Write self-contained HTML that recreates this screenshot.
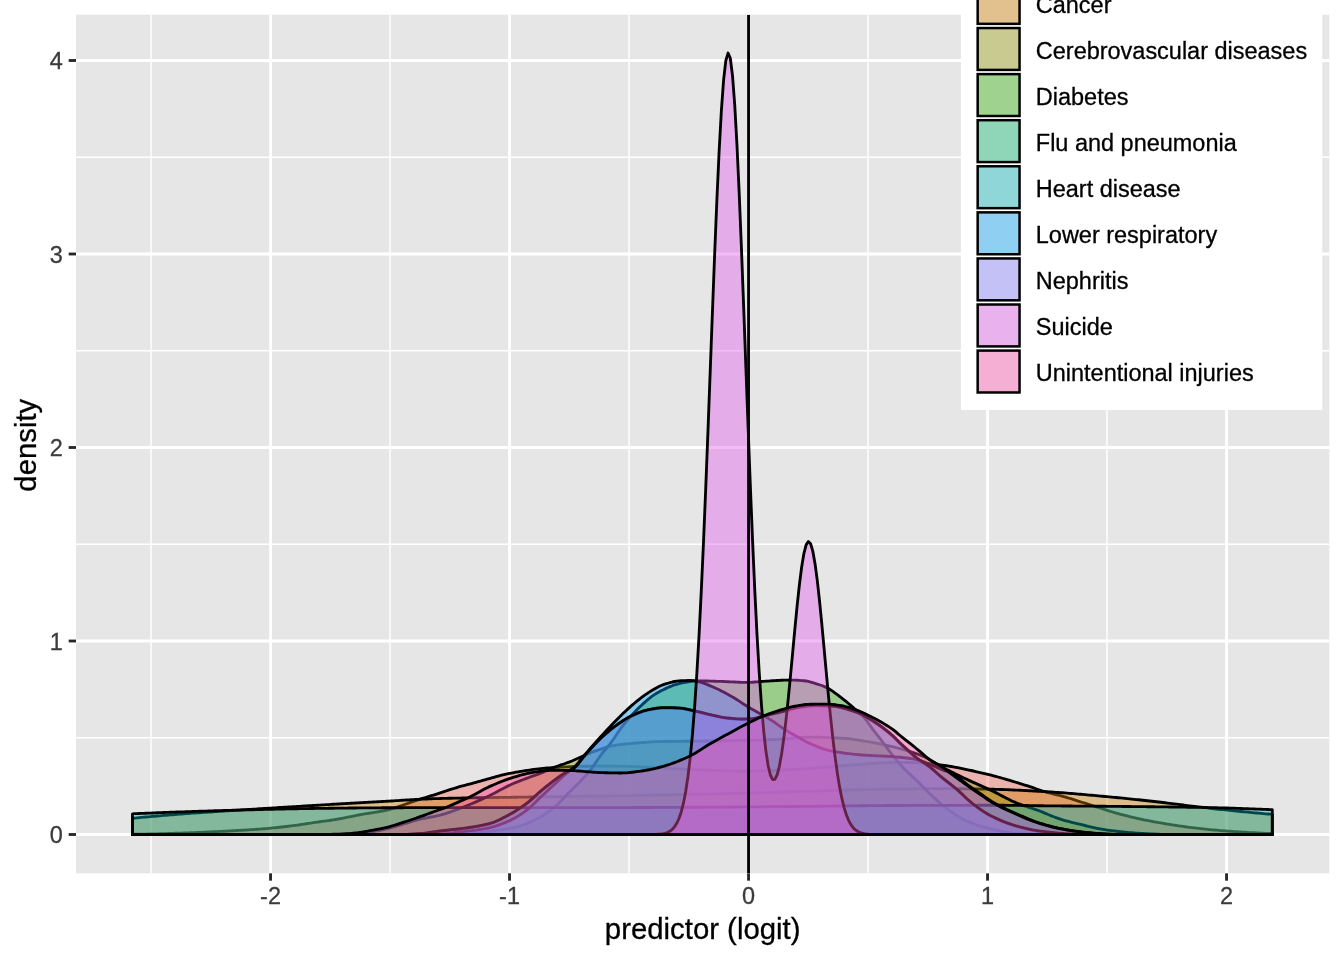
<!DOCTYPE html>
<html><head><meta charset="utf-8"><title>density</title>
<style>html,body{margin:0;padding:0;background:#fff;}body{width:1344px;height:960px;overflow:hidden;}svg{display:block;will-change:transform;}text{font-family:"Liberation Sans",sans-serif;}</style>
</head><body>
<svg width="1344" height="960" viewBox="0 0 1344 960">
<defs><clipPath id="pc"><rect x="76.00" y="14.67" width="1253.33" height="858.66"/></clipPath></defs>
<rect x="0" y="0" width="1344" height="960" fill="#FFFFFF"/>
<rect x="76.00" y="14.67" width="1253.33" height="858.66" fill="#E6E6E6"/>
<g clip-path="url(#pc)" stroke="#FFFFFF" fill="none">
<line x1="151.05" x2="151.05" y1="14.67" y2="873.33" stroke-width="1.42"/>
<line x1="390.05" x2="390.05" y1="14.67" y2="873.33" stroke-width="1.42"/>
<line x1="629.05" x2="629.05" y1="14.67" y2="873.33" stroke-width="1.42"/>
<line x1="868.05" x2="868.05" y1="14.67" y2="873.33" stroke-width="1.42"/>
<line x1="1107.05" x2="1107.05" y1="14.67" y2="873.33" stroke-width="1.42"/>
<line x1="76.00" x2="1329.33" y1="737.75" y2="737.75" stroke-width="1.42"/>
<line x1="76.00" x2="1329.33" y1="544.25" y2="544.25" stroke-width="1.42"/>
<line x1="76.00" x2="1329.33" y1="350.75" y2="350.75" stroke-width="1.42"/>
<line x1="76.00" x2="1329.33" y1="157.25" y2="157.25" stroke-width="1.42"/>
<line x1="270.55" x2="270.55" y1="14.67" y2="873.33" stroke-width="2.84"/>
<line x1="509.55" x2="509.55" y1="14.67" y2="873.33" stroke-width="2.84"/>
<line x1="748.55" x2="748.55" y1="14.67" y2="873.33" stroke-width="2.84"/>
<line x1="987.55" x2="987.55" y1="14.67" y2="873.33" stroke-width="2.84"/>
<line x1="1226.55" x2="1226.55" y1="14.67" y2="873.33" stroke-width="2.84"/>
<line x1="76.00" x2="1329.33" y1="834.50" y2="834.50" stroke-width="2.84"/>
<line x1="76.00" x2="1329.33" y1="641.00" y2="641.00" stroke-width="2.84"/>
<line x1="76.00" x2="1329.33" y1="447.50" y2="447.50" stroke-width="2.84"/>
<line x1="76.00" x2="1329.33" y1="254.00" y2="254.00" stroke-width="2.84"/>
<line x1="76.00" x2="1329.33" y1="60.50" y2="60.50" stroke-width="2.84"/>
</g>
<g clip-path="url(#pc)" stroke="#000000" stroke-width="2.84" stroke-linejoin="round" stroke-linecap="butt">
<path d="M132.50 834.50 L132.50 834.31 L134.73 834.27 L136.96 834.23 L139.19 834.19 L141.42 834.15 L143.65 834.10 L145.88 834.06 L148.11 834.01 L150.34 833.96 L152.57 833.91 L154.81 833.86 L157.04 833.80 L159.27 833.74 L161.50 833.69 L163.73 833.63 L165.96 833.56 L168.19 833.50 L170.42 833.43 L172.65 833.36 L174.88 833.29 L177.11 833.22 L179.34 833.15 L181.57 833.07 L183.80 832.99 L186.03 832.91 L188.26 832.83 L190.49 832.75 L192.72 832.66 L194.95 832.57 L197.19 832.48 L199.42 832.40 L201.65 832.30 L203.88 832.21 L206.11 832.11 L208.34 832.00 L210.57 831.90 L212.80 831.79 L215.03 831.68 L217.26 831.56 L219.49 831.45 L221.72 831.33 L223.95 831.21 L226.18 831.09 L228.41 830.97 L230.64 830.84 L232.87 830.72 L235.10 830.60 L237.33 830.48 L239.57 830.35 L241.80 830.23 L244.03 830.10 L246.26 829.97 L248.49 829.84 L250.72 829.70 L252.95 829.56 L255.18 829.42 L257.41 829.26 L259.64 829.10 L261.87 828.94 L264.10 828.76 L266.33 828.57 L268.56 828.38 L270.79 828.17 L273.02 827.95 L275.25 827.73 L277.48 827.50 L279.71 827.25 L281.95 827.01 L284.18 826.75 L286.41 826.49 L288.64 826.23 L290.87 825.96 L293.10 825.68 L295.33 825.40 L297.56 825.09 L299.79 824.77 L302.02 824.44 L304.25 824.09 L306.48 823.75 L308.71 823.40 L310.94 823.05 L313.17 822.71 L315.40 822.39 L317.63 822.07 L319.86 821.77 L322.09 821.46 L324.33 821.16 L326.56 820.86 L328.79 820.54 L331.02 820.22 L333.25 819.88 L335.48 819.52 L337.71 819.14 L339.94 818.74 L342.17 818.31 L344.40 817.88 L346.63 817.43 L348.86 816.98 L351.09 816.52 L353.32 816.07 L355.55 815.62 L357.78 815.18 L360.01 814.75 L362.24 814.34 L364.47 813.96 L366.71 813.59 L368.94 813.23 L371.17 812.88 L373.40 812.53 L375.63 812.17 L377.86 811.80 L380.09 811.41 L382.32 811.00 L384.55 810.55 L386.78 810.07 L389.01 809.54 L391.24 808.95 L393.47 808.30 L395.70 807.61 L397.93 806.88 L400.16 806.11 L402.39 805.33 L404.62 804.53 L406.85 803.72 L409.09 802.91 L411.32 802.11 L413.55 801.32 L415.78 800.56 L418.01 799.83 L420.24 799.12 L422.47 798.44 L424.70 797.75 L426.93 797.08 L429.16 796.40 L431.39 795.72 L433.62 795.03 L435.85 794.32 L438.08 793.60 L440.31 792.87 L442.54 792.13 L444.77 791.39 L447.00 790.65 L449.24 789.91 L451.47 789.19 L453.70 788.48 L455.93 787.79 L458.16 787.12 L460.39 786.48 L462.62 785.88 L464.85 785.30 L467.08 784.74 L469.31 784.18 L471.54 783.59 L473.77 782.99 L476.00 782.37 L478.23 781.74 L480.46 781.10 L482.69 780.46 L484.92 779.81 L487.15 779.17 L489.38 778.52 L491.62 777.89 L493.85 777.27 L496.08 776.66 L498.31 776.06 L500.54 775.49 L502.77 774.94 L505.00 774.41 L507.23 773.92 L509.46 773.45 L511.69 773.02 L513.92 772.62 L516.15 772.22 L518.38 771.83 L520.61 771.45 L522.84 771.08 L525.07 770.71 L527.30 770.36 L529.53 770.03 L531.76 769.70 L534.00 769.40 L536.23 769.11 L538.46 768.84 L540.69 768.59 L542.92 768.36 L545.15 768.16 L547.38 767.98 L549.61 767.82 L551.84 767.67 L554.07 767.53 L556.30 767.39 L558.53 767.25 L560.76 767.13 L562.99 767.01 L565.22 766.90 L567.45 766.80 L569.68 766.70 L571.91 766.62 L574.14 766.54 L576.38 766.47 L578.61 766.42 L580.84 766.37 L583.07 766.33 L585.30 766.28 L587.53 766.24 L589.76 766.20 L591.99 766.16 L594.22 766.13 L596.45 766.10 L598.68 766.07 L600.91 766.05 L603.14 766.03 L605.37 766.01 L607.60 766.00 L609.83 766.00 L612.06 766.01 L614.29 766.03 L616.52 766.06 L618.76 766.11 L620.99 766.16 L623.22 766.23 L625.45 766.30 L627.68 766.38 L629.91 766.47 L632.14 766.56 L634.37 766.66 L636.60 766.76 L638.83 766.86 L641.06 766.96 L643.29 767.06 L645.52 767.16 L647.75 767.26 L649.98 767.35 L652.21 767.45 L654.44 767.56 L656.67 767.67 L658.90 767.79 L661.14 767.91 L663.37 768.04 L665.60 768.18 L667.83 768.31 L670.06 768.44 L672.29 768.58 L674.52 768.71 L676.75 768.84 L678.98 768.96 L681.21 769.08 L683.44 769.20 L685.67 769.30 L687.90 769.40 L690.13 769.49 L692.36 769.57 L694.59 769.66 L696.82 769.75 L699.05 769.83 L701.28 769.92 L703.52 770.01 L705.75 770.09 L707.98 770.18 L710.21 770.26 L712.44 770.34 L714.67 770.42 L716.90 770.50 L719.13 770.57 L721.36 770.64 L723.59 770.70 L725.82 770.76 L728.05 770.82 L730.28 770.87 L732.51 770.91 L734.74 770.95 L736.97 770.98 L739.20 771.00 L741.43 771.02 L743.66 771.03 L745.90 771.03 L748.13 771.02 L750.36 771.00 L752.59 770.98 L754.82 770.94 L757.05 770.89 L759.28 770.84 L761.51 770.78 L763.74 770.72 L765.97 770.64 L768.20 770.56 L770.43 770.48 L772.66 770.39 L774.89 770.30 L777.12 770.20 L779.35 770.10 L781.58 770.00 L783.81 769.89 L786.04 769.79 L788.28 769.68 L790.51 769.57 L792.74 769.46 L794.97 769.34 L797.20 769.23 L799.43 769.12 L801.66 769.01 L803.89 768.89 L806.12 768.75 L808.35 768.60 L810.58 768.45 L812.81 768.28 L815.04 768.11 L817.27 767.93 L819.50 767.74 L821.73 767.56 L823.96 767.36 L826.19 767.17 L828.42 766.97 L830.66 766.78 L832.89 766.58 L835.12 766.39 L837.35 766.20 L839.58 766.01 L841.81 765.83 L844.04 765.66 L846.27 765.49 L848.50 765.33 L850.73 765.18 L852.96 765.02 L855.19 764.86 L857.42 764.70 L859.65 764.53 L861.88 764.35 L864.11 764.18 L866.34 764.01 L868.57 763.84 L870.80 763.67 L873.04 763.50 L875.27 763.34 L877.50 763.19 L879.73 763.04 L881.96 762.91 L884.19 762.78 L886.42 762.67 L888.65 762.57 L890.88 762.49 L893.11 762.42 L895.34 762.37 L897.57 762.34 L899.80 762.32 L902.03 762.33 L904.26 762.36 L906.49 762.40 L908.72 762.46 L910.95 762.54 L913.18 762.62 L915.42 762.71 L917.65 762.80 L919.88 762.90 L922.11 763.02 L924.34 763.17 L926.57 763.35 L928.80 763.55 L931.03 763.78 L933.26 764.03 L935.49 764.29 L937.72 764.56 L939.95 764.83 L942.18 765.12 L944.41 765.43 L946.64 765.77 L948.87 766.12 L951.10 766.49 L953.33 766.88 L955.56 767.29 L957.80 767.71 L960.03 768.15 L962.26 768.60 L964.49 769.06 L966.72 769.53 L968.95 770.02 L971.18 770.51 L973.41 771.01 L975.64 771.52 L977.87 772.03 L980.10 772.55 L982.33 773.07 L984.56 773.60 L986.79 774.12 L989.02 774.66 L991.25 775.22 L993.48 775.80 L995.71 776.39 L997.95 777.00 L1000.18 777.62 L1002.41 778.25 L1004.64 778.90 L1006.87 779.55 L1009.10 780.22 L1011.33 780.89 L1013.56 781.57 L1015.79 782.25 L1018.02 782.94 L1020.25 783.63 L1022.48 784.33 L1024.71 785.02 L1026.94 785.72 L1029.17 786.44 L1031.40 787.19 L1033.63 787.96 L1035.86 788.74 L1038.09 789.51 L1040.33 790.27 L1042.56 790.99 L1044.79 791.67 L1047.02 792.30 L1049.25 792.90 L1051.48 793.46 L1053.71 794.01 L1055.94 794.55 L1058.17 795.11 L1060.40 795.68 L1062.63 796.28 L1064.86 796.91 L1067.09 797.57 L1069.32 798.25 L1071.55 798.94 L1073.78 799.65 L1076.01 800.36 L1078.24 801.08 L1080.47 801.79 L1082.71 802.50 L1084.94 803.21 L1087.17 803.90 L1089.40 804.61 L1091.63 805.33 L1093.86 806.05 L1096.09 806.78 L1098.32 807.50 L1100.55 808.23 L1102.78 808.96 L1105.01 809.67 L1107.24 810.38 L1109.47 811.08 L1111.70 811.76 L1113.93 812.42 L1116.16 813.07 L1118.39 813.69 L1120.62 814.28 L1122.85 814.85 L1125.09 815.41 L1127.32 815.97 L1129.55 816.51 L1131.78 817.04 L1134.01 817.57 L1136.24 818.08 L1138.47 818.58 L1140.70 819.07 L1142.93 819.55 L1145.16 820.02 L1147.39 820.48 L1149.62 820.92 L1151.85 821.36 L1154.08 821.78 L1156.31 822.19 L1158.54 822.58 L1160.77 822.97 L1163.00 823.36 L1165.23 823.74 L1167.47 824.10 L1169.70 824.47 L1171.93 824.82 L1174.16 825.16 L1176.39 825.50 L1178.62 825.83 L1180.85 826.15 L1183.08 826.46 L1185.31 826.76 L1187.54 827.05 L1189.77 827.34 L1192.00 827.61 L1194.23 827.87 L1196.46 828.13 L1198.69 828.38 L1200.92 828.63 L1203.15 828.88 L1205.38 829.11 L1207.61 829.35 L1209.85 829.57 L1212.08 829.79 L1214.31 830.00 L1216.54 830.21 L1218.77 830.41 L1221.00 830.60 L1223.23 830.78 L1225.46 830.95 L1227.69 831.12 L1229.92 831.27 L1232.15 831.43 L1234.38 831.58 L1236.61 831.73 L1238.84 831.87 L1241.07 832.02 L1243.30 832.15 L1245.53 832.29 L1247.76 832.42 L1249.99 832.55 L1252.23 832.67 L1254.46 832.79 L1256.69 832.90 L1258.92 833.01 L1261.15 833.11 L1263.38 833.21 L1265.61 833.30 L1267.84 833.38 L1270.07 833.46 L1272.30 833.53 L1272.30 834.50 Z" fill="#F6635A" fill-opacity="0.4"/>
<path d="M132.50 834.50 L132.50 818.25 L134.73 818.04 L136.96 817.83 L139.19 817.62 L141.42 817.42 L143.65 817.21 L145.88 817.01 L148.11 816.81 L150.34 816.61 L152.57 816.41 L154.81 816.22 L157.04 816.02 L159.27 815.83 L161.50 815.64 L163.73 815.45 L165.96 815.27 L168.19 815.08 L170.42 814.90 L172.65 814.72 L174.88 814.54 L177.11 814.37 L179.34 814.19 L181.57 814.02 L183.80 813.85 L186.03 813.69 L188.26 813.52 L190.49 813.36 L192.72 813.20 L194.95 813.04 L197.19 812.88 L199.42 812.73 L201.65 812.57 L203.88 812.42 L206.11 812.27 L208.34 812.12 L210.57 811.97 L212.80 811.82 L215.03 811.67 L217.26 811.53 L219.49 811.38 L221.72 811.23 L223.95 811.09 L226.18 810.95 L228.41 810.80 L230.64 810.66 L232.87 810.51 L235.10 810.37 L237.33 810.23 L239.57 810.08 L241.80 809.94 L244.03 809.80 L246.26 809.65 L248.49 809.51 L250.72 809.36 L252.95 809.22 L255.18 809.08 L257.41 808.93 L259.64 808.79 L261.87 808.65 L264.10 808.51 L266.33 808.37 L268.56 808.23 L270.79 808.09 L273.02 807.95 L275.25 807.81 L277.48 807.67 L279.71 807.53 L281.95 807.39 L284.18 807.25 L286.41 807.12 L288.64 806.98 L290.87 806.84 L293.10 806.71 L295.33 806.57 L297.56 806.43 L299.79 806.30 L302.02 806.16 L304.25 806.03 L306.48 805.89 L308.71 805.76 L310.94 805.62 L313.17 805.49 L315.40 805.36 L317.63 805.22 L319.86 805.09 L322.09 804.95 L324.33 804.82 L326.56 804.69 L328.79 804.55 L331.02 804.42 L333.25 804.29 L335.48 804.15 L337.71 804.02 L339.94 803.89 L342.17 803.76 L344.40 803.63 L346.63 803.50 L348.86 803.37 L351.09 803.24 L353.32 803.11 L355.55 802.98 L357.78 802.85 L360.01 802.72 L362.24 802.60 L364.47 802.47 L366.71 802.34 L368.94 802.22 L371.17 802.09 L373.40 801.97 L375.63 801.85 L377.86 801.72 L380.09 801.60 L382.32 801.48 L384.55 801.35 L386.78 801.22 L389.01 801.09 L391.24 800.96 L393.47 800.82 L395.70 800.69 L397.93 800.56 L400.16 800.42 L402.39 800.29 L404.62 800.15 L406.85 800.02 L409.09 799.89 L411.32 799.77 L413.55 799.64 L415.78 799.52 L418.01 799.40 L420.24 799.29 L422.47 799.18 L424.70 799.07 L426.93 798.97 L429.16 798.88 L431.39 798.79 L433.62 798.70 L435.85 798.63 L438.08 798.56 L440.31 798.50 L442.54 798.44 L444.77 798.39 L447.00 798.34 L449.24 798.29 L451.47 798.24 L453.70 798.19 L455.93 798.14 L458.16 798.10 L460.39 798.05 L462.62 798.01 L464.85 797.97 L467.08 797.93 L469.31 797.89 L471.54 797.85 L473.77 797.81 L476.00 797.78 L478.23 797.74 L480.46 797.71 L482.69 797.68 L484.92 797.64 L487.15 797.61 L489.38 797.58 L491.62 797.55 L493.85 797.52 L496.08 797.49 L498.31 797.46 L500.54 797.43 L502.77 797.40 L505.00 797.37 L507.23 797.34 L509.46 797.31 L511.69 797.28 L513.92 797.25 L516.15 797.22 L518.38 797.19 L520.61 797.16 L522.84 797.13 L525.07 797.10 L527.30 797.07 L529.53 797.04 L531.76 797.01 L534.00 796.98 L536.23 796.94 L538.46 796.91 L540.69 796.88 L542.92 796.85 L545.15 796.82 L547.38 796.78 L549.61 796.75 L551.84 796.72 L554.07 796.69 L556.30 796.67 L558.53 796.64 L560.76 796.61 L562.99 796.58 L565.22 796.55 L567.45 796.52 L569.68 796.49 L571.91 796.46 L574.14 796.44 L576.38 796.41 L578.61 796.38 L580.84 796.35 L583.07 796.32 L585.30 796.29 L587.53 796.26 L589.76 796.23 L591.99 796.21 L594.22 796.18 L596.45 796.15 L598.68 796.11 L600.91 796.08 L603.14 796.05 L605.37 796.02 L607.60 795.99 L609.83 795.96 L612.06 795.92 L614.29 795.89 L616.52 795.85 L618.76 795.82 L620.99 795.78 L623.22 795.75 L625.45 795.71 L627.68 795.67 L629.91 795.64 L632.14 795.60 L634.37 795.56 L636.60 795.52 L638.83 795.48 L641.06 795.44 L643.29 795.40 L645.52 795.36 L647.75 795.32 L649.98 795.28 L652.21 795.24 L654.44 795.20 L656.67 795.15 L658.90 795.11 L661.14 795.07 L663.37 795.02 L665.60 794.98 L667.83 794.94 L670.06 794.89 L672.29 794.85 L674.52 794.80 L676.75 794.75 L678.98 794.71 L681.21 794.66 L683.44 794.61 L685.67 794.57 L687.90 794.52 L690.13 794.47 L692.36 794.42 L694.59 794.37 L696.82 794.32 L699.05 794.27 L701.28 794.22 L703.52 794.17 L705.75 794.12 L707.98 794.07 L710.21 794.01 L712.44 793.96 L714.67 793.91 L716.90 793.85 L719.13 793.79 L721.36 793.74 L723.59 793.68 L725.82 793.62 L728.05 793.57 L730.28 793.51 L732.51 793.45 L734.74 793.39 L736.97 793.33 L739.20 793.27 L741.43 793.21 L743.66 793.14 L745.90 793.08 L748.13 793.02 L750.36 792.96 L752.59 792.90 L754.82 792.83 L757.05 792.77 L759.28 792.71 L761.51 792.64 L763.74 792.58 L765.97 792.51 L768.20 792.45 L770.43 792.39 L772.66 792.32 L774.89 792.26 L777.12 792.19 L779.35 792.13 L781.58 792.07 L783.81 792.00 L786.04 791.94 L788.28 791.88 L790.51 791.81 L792.74 791.75 L794.97 791.68 L797.20 791.62 L799.43 791.56 L801.66 791.50 L803.89 791.43 L806.12 791.36 L808.35 791.30 L810.58 791.23 L812.81 791.15 L815.04 791.08 L817.27 791.01 L819.50 790.93 L821.73 790.86 L823.96 790.78 L826.19 790.71 L828.42 790.63 L830.66 790.56 L832.89 790.48 L835.12 790.41 L837.35 790.33 L839.58 790.26 L841.81 790.18 L844.04 790.11 L846.27 790.04 L848.50 789.97 L850.73 789.90 L852.96 789.84 L855.19 789.77 L857.42 789.71 L859.65 789.65 L861.88 789.59 L864.11 789.53 L866.34 789.48 L868.57 789.43 L870.80 789.38 L873.04 789.34 L875.27 789.30 L877.50 789.26 L879.73 789.22 L881.96 789.19 L884.19 789.16 L886.42 789.13 L888.65 789.10 L890.88 789.07 L893.11 789.04 L895.34 789.01 L897.57 788.98 L899.80 788.95 L902.03 788.92 L904.26 788.89 L906.49 788.86 L908.72 788.84 L910.95 788.81 L913.18 788.79 L915.42 788.77 L917.65 788.75 L919.88 788.73 L922.11 788.71 L924.34 788.70 L926.57 788.68 L928.80 788.67 L931.03 788.66 L933.26 788.65 L935.49 788.65 L937.72 788.64 L939.95 788.64 L942.18 788.64 L944.41 788.65 L946.64 788.65 L948.87 788.67 L951.10 788.68 L953.33 788.70 L955.56 788.71 L957.80 788.73 L960.03 788.76 L962.26 788.78 L964.49 788.81 L966.72 788.84 L968.95 788.87 L971.18 788.90 L973.41 788.94 L975.64 788.97 L977.87 789.01 L980.10 789.05 L982.33 789.08 L984.56 789.12 L986.79 789.16 L989.02 789.20 L991.25 789.24 L993.48 789.29 L995.71 789.35 L997.95 789.41 L1000.18 789.47 L1002.41 789.54 L1004.64 789.62 L1006.87 789.70 L1009.10 789.79 L1011.33 789.88 L1013.56 789.98 L1015.79 790.07 L1018.02 790.18 L1020.25 790.28 L1022.48 790.39 L1024.71 790.51 L1026.94 790.62 L1029.17 790.74 L1031.40 790.86 L1033.63 790.98 L1035.86 791.10 L1038.09 791.23 L1040.33 791.36 L1042.56 791.48 L1044.79 791.61 L1047.02 791.74 L1049.25 791.87 L1051.48 792.01 L1053.71 792.15 L1055.94 792.30 L1058.17 792.46 L1060.40 792.62 L1062.63 792.78 L1064.86 792.95 L1067.09 793.13 L1069.32 793.31 L1071.55 793.49 L1073.78 793.67 L1076.01 793.86 L1078.24 794.06 L1080.47 794.25 L1082.71 794.45 L1084.94 794.65 L1087.17 794.85 L1089.40 795.05 L1091.63 795.25 L1093.86 795.45 L1096.09 795.66 L1098.32 795.86 L1100.55 796.07 L1102.78 796.27 L1105.01 796.47 L1107.24 796.68 L1109.47 796.88 L1111.70 797.09 L1113.93 797.31 L1116.16 797.52 L1118.39 797.74 L1120.62 797.95 L1122.85 798.17 L1125.09 798.40 L1127.32 798.62 L1129.55 798.85 L1131.78 799.08 L1134.01 799.31 L1136.24 799.54 L1138.47 799.77 L1140.70 800.01 L1142.93 800.25 L1145.16 800.49 L1147.39 800.73 L1149.62 800.98 L1151.85 801.22 L1154.08 801.47 L1156.31 801.72 L1158.54 801.97 L1160.77 802.23 L1163.00 802.50 L1165.23 802.77 L1167.47 803.05 L1169.70 803.33 L1171.93 803.61 L1174.16 803.89 L1176.39 804.18 L1178.62 804.46 L1180.85 804.75 L1183.08 805.03 L1185.31 805.31 L1187.54 805.59 L1189.77 805.86 L1192.00 806.13 L1194.23 806.39 L1196.46 806.66 L1198.69 806.92 L1200.92 807.18 L1203.15 807.44 L1205.38 807.70 L1207.61 807.96 L1209.85 808.22 L1212.08 808.47 L1214.31 808.72 L1216.54 808.97 L1218.77 809.22 L1221.00 809.47 L1223.23 809.71 L1225.46 809.94 L1227.69 810.18 L1229.92 810.41 L1232.15 810.63 L1234.38 810.86 L1236.61 811.08 L1238.84 811.31 L1241.07 811.53 L1243.30 811.74 L1245.53 811.96 L1247.76 812.18 L1249.99 812.39 L1252.23 812.60 L1254.46 812.80 L1256.69 813.01 L1258.92 813.21 L1261.15 813.41 L1263.38 813.61 L1265.61 813.81 L1267.84 814.00 L1270.07 814.19 L1272.30 814.38 L1272.30 834.50 Z" fill="#CF7D00" fill-opacity="0.4"/>
<path d="M132.50 834.50 L132.50 834.50 L134.73 834.50 L136.96 834.50 L139.19 834.50 L141.42 834.50 L143.65 834.50 L145.88 834.50 L148.11 834.50 L150.34 834.50 L152.57 834.50 L154.81 834.50 L157.04 834.50 L159.27 834.50 L161.50 834.50 L163.73 834.50 L165.96 834.50 L168.19 834.50 L170.42 834.50 L172.65 834.50 L174.88 834.50 L177.11 834.50 L179.34 834.50 L181.57 834.50 L183.80 834.50 L186.03 834.50 L188.26 834.50 L190.49 834.50 L192.72 834.50 L194.95 834.50 L197.19 834.50 L199.42 834.50 L201.65 834.50 L203.88 834.50 L206.11 834.50 L208.34 834.50 L210.57 834.50 L212.80 834.50 L215.03 834.50 L217.26 834.50 L219.49 834.50 L221.72 834.50 L223.95 834.50 L226.18 834.50 L228.41 834.50 L230.64 834.50 L232.87 834.50 L235.10 834.50 L237.33 834.50 L239.57 834.50 L241.80 834.50 L244.03 834.50 L246.26 834.50 L248.49 834.50 L250.72 834.50 L252.95 834.50 L255.18 834.50 L257.41 834.50 L259.64 834.50 L261.87 834.50 L264.10 834.50 L266.33 834.50 L268.56 834.50 L270.79 834.50 L273.02 834.50 L275.25 834.50 L277.48 834.50 L279.71 834.50 L281.95 834.50 L284.18 834.50 L286.41 834.50 L288.64 834.50 L290.87 834.50 L293.10 834.50 L295.33 834.50 L297.56 834.50 L299.79 834.50 L302.02 834.50 L304.25 834.50 L306.48 834.50 L308.71 834.50 L310.94 834.50 L313.17 834.50 L315.40 834.50 L317.63 834.50 L319.86 834.50 L322.09 834.50 L324.33 834.50 L326.56 834.50 L328.79 834.50 L331.02 834.50 L333.25 834.49 L335.48 834.46 L337.71 834.43 L339.94 834.39 L342.17 834.34 L344.40 834.28 L346.63 834.22 L348.86 834.15 L351.09 834.07 L353.32 833.95 L355.55 833.78 L357.78 833.58 L360.01 833.34 L362.24 833.08 L364.47 832.79 L366.71 832.49 L368.94 832.18 L371.17 831.87 L373.40 831.54 L375.63 831.16 L377.86 830.75 L380.09 830.30 L382.32 829.83 L384.55 829.33 L386.78 828.82 L389.01 828.28 L391.24 827.69 L393.47 827.06 L395.70 826.40 L397.93 825.73 L400.16 825.06 L402.39 824.39 L404.62 823.73 L406.85 823.04 L409.09 822.34 L411.32 821.64 L413.55 820.96 L415.78 820.32 L418.01 819.72 L420.24 819.19 L422.47 818.71 L424.70 818.26 L426.93 817.83 L429.16 817.42 L431.39 817.01 L433.62 816.58 L435.85 816.12 L438.08 815.62 L440.31 815.07 L442.54 814.46 L444.77 813.80 L447.00 813.09 L449.24 812.34 L451.47 811.56 L453.70 810.76 L455.93 809.93 L458.16 809.08 L460.39 808.23 L462.62 807.36 L464.85 806.50 L467.08 805.62 L469.31 804.71 L471.54 803.78 L473.77 802.83 L476.00 801.86 L478.23 800.87 L480.46 799.87 L482.69 798.85 L484.92 797.82 L487.15 796.78 L489.38 795.72 L491.62 794.60 L493.85 793.44 L496.08 792.25 L498.31 791.05 L500.54 789.85 L502.77 788.65 L505.00 787.48 L507.23 786.36 L509.46 785.28 L511.69 784.27 L513.92 783.31 L516.15 782.38 L518.38 781.47 L520.61 780.60 L522.84 779.74 L525.07 778.89 L527.30 778.05 L529.53 777.22 L531.76 776.43 L534.00 775.67 L536.23 774.91 L538.46 774.12 L540.69 773.28 L542.92 772.35 L545.15 771.33 L547.38 770.27 L549.61 769.22 L551.84 768.22 L554.07 767.32 L556.30 766.50 L558.53 765.72 L560.76 764.97 L562.99 764.23 L565.22 763.48 L567.45 762.70 L569.68 761.87 L571.91 760.97 L574.14 760.00 L576.38 759.00 L578.61 757.98 L580.84 756.97 L583.07 755.98 L585.30 755.04 L587.53 754.12 L589.76 753.20 L591.99 752.30 L594.22 751.42 L596.45 750.58 L598.68 749.80 L600.91 749.07 L603.14 748.34 L605.37 747.63 L607.60 746.96 L609.83 746.36 L612.06 745.85 L614.29 745.44 L616.52 745.11 L618.76 744.80 L620.99 744.52 L623.22 744.26 L625.45 744.02 L627.68 743.80 L629.91 743.60 L632.14 743.40 L634.37 743.22 L636.60 743.04 L638.83 742.87 L641.06 742.70 L643.29 742.53 L645.52 742.36 L647.75 742.19 L649.98 742.04 L652.21 741.90 L654.44 741.78 L656.67 741.69 L658.90 741.62 L661.14 741.58 L663.37 741.53 L665.60 741.50 L667.83 741.47 L670.06 741.44 L672.29 741.41 L674.52 741.39 L676.75 741.37 L678.98 741.35 L681.21 741.32 L683.44 741.30 L685.67 741.28 L687.90 741.25 L690.13 741.22 L692.36 741.19 L694.59 741.16 L696.82 741.13 L699.05 741.10 L701.28 741.07 L703.52 741.04 L705.75 741.01 L707.98 740.98 L710.21 740.95 L712.44 740.92 L714.67 740.88 L716.90 740.85 L719.13 740.82 L721.36 740.79 L723.59 740.75 L725.82 740.71 L728.05 740.68 L730.28 740.64 L732.51 740.60 L734.74 740.56 L736.97 740.52 L739.20 740.47 L741.43 740.43 L743.66 740.38 L745.90 740.34 L748.13 740.29 L750.36 740.23 L752.59 740.18 L754.82 740.13 L757.05 740.07 L759.28 740.01 L761.51 739.94 L763.74 739.88 L765.97 739.81 L768.20 739.74 L770.43 739.66 L772.66 739.58 L774.89 739.50 L777.12 739.42 L779.35 739.33 L781.58 739.22 L783.81 739.08 L786.04 738.91 L788.28 738.72 L790.51 738.51 L792.74 738.30 L794.97 738.08 L797.20 737.87 L799.43 737.67 L801.66 737.50 L803.89 737.36 L806.12 737.25 L808.35 737.18 L810.58 737.17 L812.81 737.18 L815.04 737.20 L817.27 737.24 L819.50 737.28 L821.73 737.34 L823.96 737.41 L826.19 737.48 L828.42 737.56 L830.66 737.65 L832.89 737.75 L835.12 737.85 L837.35 737.96 L839.58 738.07 L841.81 738.18 L844.04 738.33 L846.27 738.52 L848.50 738.75 L850.73 739.01 L852.96 739.29 L855.19 739.60 L857.42 739.94 L859.65 740.29 L861.88 740.65 L864.11 741.03 L866.34 741.41 L868.57 741.80 L870.80 742.19 L873.04 742.57 L875.27 742.98 L877.50 743.40 L879.73 743.84 L881.96 744.30 L884.19 744.77 L886.42 745.27 L888.65 745.78 L890.88 746.31 L893.11 746.86 L895.34 747.42 L897.57 748.00 L899.80 748.59 L902.03 749.20 L904.26 749.82 L906.49 750.46 L908.72 751.13 L910.95 751.82 L913.18 752.55 L915.42 753.31 L917.65 754.12 L919.88 754.97 L922.11 755.86 L924.34 756.81 L926.57 757.85 L928.80 759.05 L931.03 760.38 L933.26 761.78 L935.49 763.19 L937.72 764.57 L939.95 765.86 L942.18 767.07 L944.41 768.26 L946.64 769.42 L948.87 770.57 L951.10 771.71 L953.33 772.83 L955.56 773.93 L957.80 775.03 L960.03 776.11 L962.26 777.19 L964.49 778.26 L966.72 779.32 L968.95 780.37 L971.18 781.40 L973.41 782.41 L975.64 783.41 L977.87 784.39 L980.10 785.37 L982.33 786.36 L984.56 787.35 L986.79 788.35 L989.02 789.37 L991.25 790.41 L993.48 791.49 L995.71 792.62 L997.95 793.77 L1000.18 794.95 L1002.41 796.13 L1004.64 797.31 L1006.87 798.47 L1009.10 799.59 L1011.33 800.66 L1013.56 801.68 L1015.79 802.62 L1018.02 803.48 L1020.25 804.29 L1022.48 805.08 L1024.71 805.86 L1026.94 806.62 L1029.17 807.35 L1031.40 808.08 L1033.63 808.82 L1035.86 809.57 L1038.09 810.36 L1040.33 811.21 L1042.56 812.13 L1044.79 813.10 L1047.02 814.07 L1049.25 815.02 L1051.48 815.92 L1053.71 816.76 L1055.94 817.58 L1058.17 818.37 L1060.40 819.14 L1062.63 819.86 L1064.86 820.53 L1067.09 821.15 L1069.32 821.72 L1071.55 822.26 L1073.78 822.78 L1076.01 823.30 L1078.24 823.82 L1080.47 824.36 L1082.71 824.93 L1084.94 825.50 L1087.17 826.08 L1089.40 826.65 L1091.63 827.19 L1093.86 827.69 L1096.09 828.14 L1098.32 828.56 L1100.55 828.96 L1102.78 829.34 L1105.01 829.70 L1107.24 830.04 L1109.47 830.36 L1111.70 830.67 L1113.93 830.96 L1116.16 831.24 L1118.39 831.51 L1120.62 831.75 L1122.85 831.98 L1125.09 832.19 L1127.32 832.37 L1129.55 832.56 L1131.78 832.73 L1134.01 832.89 L1136.24 833.05 L1138.47 833.20 L1140.70 833.34 L1142.93 833.47 L1145.16 833.59 L1147.39 833.70 L1149.62 833.80 L1151.85 833.91 L1154.08 834.02 L1156.31 834.12 L1158.54 834.22 L1160.77 834.31 L1163.00 834.38 L1165.23 834.44 L1167.47 834.48 L1169.70 834.50 L1171.93 834.50 L1174.16 834.50 L1176.39 834.50 L1178.62 834.50 L1180.85 834.50 L1183.08 834.50 L1185.31 834.50 L1187.54 834.50 L1189.77 834.50 L1192.00 834.50 L1194.23 834.50 L1196.46 834.50 L1198.69 834.50 L1200.92 834.50 L1203.15 834.50 L1205.38 834.50 L1207.61 834.50 L1209.85 834.50 L1212.08 834.50 L1214.31 834.50 L1216.54 834.50 L1218.77 834.50 L1221.00 834.50 L1223.23 834.50 L1225.46 834.50 L1227.69 834.50 L1229.92 834.50 L1232.15 834.50 L1234.38 834.50 L1236.61 834.50 L1238.84 834.50 L1241.07 834.50 L1243.30 834.50 L1245.53 834.50 L1247.76 834.50 L1249.99 834.50 L1252.23 834.50 L1254.46 834.50 L1256.69 834.50 L1258.92 834.50 L1261.15 834.50 L1263.38 834.50 L1265.61 834.50 L1267.84 834.50 L1270.07 834.50 L1272.30 834.50 L1272.30 834.50 Z" fill="#929400" fill-opacity="0.4"/>
<path d="M132.50 834.50 L132.50 834.50 L134.73 834.50 L136.96 834.50 L139.19 834.50 L141.42 834.50 L143.65 834.50 L145.88 834.50 L148.11 834.50 L150.34 834.50 L152.57 834.50 L154.81 834.50 L157.04 834.50 L159.27 834.50 L161.50 834.50 L163.73 834.50 L165.96 834.50 L168.19 834.50 L170.42 834.50 L172.65 834.50 L174.88 834.50 L177.11 834.50 L179.34 834.50 L181.57 834.50 L183.80 834.50 L186.03 834.50 L188.26 834.50 L190.49 834.50 L192.72 834.50 L194.95 834.50 L197.19 834.50 L199.42 834.50 L201.65 834.50 L203.88 834.50 L206.11 834.50 L208.34 834.50 L210.57 834.50 L212.80 834.50 L215.03 834.50 L217.26 834.50 L219.49 834.50 L221.72 834.50 L223.95 834.50 L226.18 834.50 L228.41 834.50 L230.64 834.50 L232.87 834.50 L235.10 834.50 L237.33 834.50 L239.57 834.50 L241.80 834.50 L244.03 834.50 L246.26 834.50 L248.49 834.50 L250.72 834.50 L252.95 834.50 L255.18 834.50 L257.41 834.50 L259.64 834.50 L261.87 834.50 L264.10 834.50 L266.33 834.50 L268.56 834.50 L270.79 834.50 L273.02 834.50 L275.25 834.50 L277.48 834.50 L279.71 834.50 L281.95 834.50 L284.18 834.50 L286.41 834.50 L288.64 834.50 L290.87 834.50 L293.10 834.50 L295.33 834.50 L297.56 834.50 L299.79 834.50 L302.02 834.50 L304.25 834.50 L306.48 834.50 L308.71 834.50 L310.94 834.50 L313.17 834.50 L315.40 834.50 L317.63 834.50 L319.86 834.50 L322.09 834.50 L324.33 834.50 L326.56 834.50 L328.79 834.50 L331.02 834.50 L333.25 834.50 L335.48 834.50 L337.71 834.50 L339.94 834.50 L342.17 834.50 L344.40 834.50 L346.63 834.50 L348.86 834.50 L351.09 834.50 L353.32 834.50 L355.55 834.50 L357.78 834.50 L360.01 834.50 L362.24 834.50 L364.47 834.50 L366.71 834.50 L368.94 834.50 L371.17 834.50 L373.40 834.50 L375.63 834.50 L377.86 834.50 L380.09 834.50 L382.32 834.50 L384.55 834.50 L386.78 834.50 L389.01 834.50 L391.24 834.50 L393.47 834.50 L395.70 834.50 L397.93 834.50 L400.16 834.50 L402.39 834.50 L404.62 834.50 L406.85 834.50 L409.09 834.50 L411.32 834.50 L413.55 834.50 L415.78 834.50 L418.01 834.50 L420.24 834.50 L422.47 834.50 L424.70 834.50 L426.93 834.50 L429.16 834.50 L431.39 834.50 L433.62 834.50 L435.85 834.50 L438.08 834.50 L440.31 834.50 L442.54 834.50 L444.77 834.50 L447.00 834.50 L449.24 834.50 L451.47 834.49 L453.70 834.46 L455.93 834.41 L458.16 834.33 L460.39 834.24 L462.62 834.14 L464.85 834.02 L467.08 833.90 L469.31 833.77 L471.54 833.62 L473.77 833.43 L476.00 833.20 L478.23 832.94 L480.46 832.65 L482.69 832.34 L484.92 832.02 L487.15 831.69 L489.38 831.37 L491.62 831.07 L493.85 830.76 L496.08 830.46 L498.31 830.16 L500.54 829.84 L502.77 829.52 L505.00 829.18 L507.23 828.82 L509.46 828.43 L511.69 828.01 L513.92 827.56 L516.15 827.08 L518.38 826.54 L520.61 825.90 L522.84 825.15 L525.07 824.31 L527.30 823.39 L529.53 822.41 L531.76 821.37 L534.00 820.30 L536.23 819.19 L538.46 818.02 L540.69 816.77 L542.92 815.43 L545.15 814.00 L547.38 812.50 L549.61 810.92 L551.84 809.25 L554.07 807.51 L556.30 805.61 L558.53 803.48 L560.76 801.19 L562.99 798.82 L565.22 796.44 L567.45 794.12 L569.68 791.91 L571.91 789.73 L574.14 787.57 L576.38 785.38 L578.61 783.15 L580.84 780.85 L583.07 778.46 L585.30 776.01 L587.53 773.46 L589.76 770.79 L591.99 767.92 L594.22 764.78 L596.45 761.49 L598.68 758.21 L600.91 755.09 L603.14 752.21 L605.37 749.48 L607.60 746.79 L609.83 744.04 L612.06 741.15 L614.29 737.99 L616.52 734.65 L618.76 731.29 L620.99 728.08 L623.22 725.16 L625.45 722.39 L627.68 719.74 L629.91 717.19 L632.14 714.73 L634.37 712.35 L636.60 710.04 L638.83 707.82 L641.06 705.68 L643.29 703.62 L645.52 701.61 L647.75 699.65 L649.98 697.80 L652.21 696.11 L654.44 694.62 L656.67 693.25 L658.90 691.99 L661.14 690.80 L663.37 689.68 L665.60 688.61 L667.83 687.56 L670.06 686.58 L672.29 685.70 L674.52 684.96 L676.75 684.30 L678.98 683.70 L681.21 683.16 L683.44 682.69 L685.67 682.29 L687.90 681.90 L690.13 681.52 L692.36 681.19 L694.59 680.96 L696.82 680.86 L699.05 680.87 L701.28 680.89 L703.52 680.93 L705.75 680.98 L707.98 681.04 L710.21 681.10 L712.44 681.17 L714.67 681.24 L716.90 681.32 L719.13 681.39 L721.36 681.45 L723.59 681.53 L725.82 681.62 L728.05 681.72 L730.28 681.82 L732.51 681.93 L734.74 682.03 L736.97 682.13 L739.20 682.22 L741.43 682.30 L743.66 682.36 L745.90 682.40 L748.13 682.41 L750.36 682.36 L752.59 682.22 L754.82 682.04 L757.05 681.84 L759.28 681.64 L761.51 681.47 L763.74 681.34 L765.97 681.20 L768.20 681.05 L770.43 680.91 L772.66 680.76 L774.89 680.63 L777.12 680.50 L779.35 680.38 L781.58 680.28 L783.81 680.19 L786.04 680.13 L788.28 680.10 L790.51 680.09 L792.74 680.12 L794.97 680.19 L797.20 680.29 L799.43 680.42 L801.66 680.58 L803.89 680.76 L806.12 681.00 L808.35 681.43 L810.58 682.03 L812.81 682.71 L815.04 683.39 L817.27 684.05 L819.50 684.75 L821.73 685.52 L823.96 686.37 L826.19 687.34 L828.42 688.50 L830.66 689.86 L832.89 691.38 L835.12 693.02 L837.35 694.71 L839.58 696.42 L841.81 698.11 L844.04 699.85 L846.27 701.65 L848.50 703.50 L850.73 705.40 L852.96 707.33 L855.19 709.28 L857.42 711.21 L859.65 713.16 L861.88 715.24 L864.11 717.56 L866.34 720.29 L868.57 723.37 L870.80 726.53 L873.04 729.55 L875.27 732.44 L877.50 735.29 L879.73 738.14 L881.96 741.02 L884.19 743.99 L886.42 747.06 L888.65 750.17 L890.88 753.20 L893.11 756.08 L895.34 758.80 L897.57 761.43 L899.80 763.97 L902.03 766.42 L904.26 768.79 L906.49 771.05 L908.72 773.22 L910.95 775.32 L913.18 777.39 L915.42 779.45 L917.65 781.54 L919.88 783.68 L922.11 785.90 L924.34 788.17 L926.57 790.45 L928.80 792.70 L931.03 794.86 L933.26 796.98 L935.49 799.08 L937.72 801.15 L939.95 803.13 L942.18 805.01 L944.41 806.75 L946.64 808.43 L948.87 810.08 L951.10 811.69 L953.33 813.25 L955.56 814.76 L957.80 816.19 L960.03 817.55 L962.26 818.81 L964.49 819.97 L966.72 821.02 L968.95 821.98 L971.18 822.89 L973.41 823.76 L975.64 824.58 L977.87 825.36 L980.10 826.09 L982.33 826.78 L984.56 827.43 L986.79 828.04 L989.02 828.61 L991.25 829.14 L993.48 829.65 L995.71 830.16 L997.95 830.65 L1000.18 831.12 L1002.41 831.57 L1004.64 831.98 L1006.87 832.36 L1009.10 832.70 L1011.33 832.99 L1013.56 833.22 L1015.79 833.40 L1018.02 833.56 L1020.25 833.71 L1022.48 833.86 L1024.71 834.00 L1026.94 834.12 L1029.17 834.23 L1031.40 834.33 L1033.63 834.40 L1035.86 834.46 L1038.09 834.49 L1040.33 834.50 L1042.56 834.50 L1044.79 834.50 L1047.02 834.50 L1049.25 834.50 L1051.48 834.50 L1053.71 834.50 L1055.94 834.50 L1058.17 834.50 L1060.40 834.50 L1062.63 834.50 L1064.86 834.50 L1067.09 834.50 L1069.32 834.50 L1071.55 834.50 L1073.78 834.50 L1076.01 834.50 L1078.24 834.50 L1080.47 834.50 L1082.71 834.50 L1084.94 834.50 L1087.17 834.50 L1089.40 834.50 L1091.63 834.50 L1093.86 834.50 L1096.09 834.50 L1098.32 834.50 L1100.55 834.50 L1102.78 834.50 L1105.01 834.50 L1107.24 834.50 L1109.47 834.50 L1111.70 834.50 L1113.93 834.50 L1116.16 834.50 L1118.39 834.50 L1120.62 834.50 L1122.85 834.50 L1125.09 834.50 L1127.32 834.50 L1129.55 834.50 L1131.78 834.50 L1134.01 834.50 L1136.24 834.50 L1138.47 834.50 L1140.70 834.50 L1142.93 834.50 L1145.16 834.50 L1147.39 834.50 L1149.62 834.50 L1151.85 834.50 L1154.08 834.50 L1156.31 834.50 L1158.54 834.50 L1160.77 834.50 L1163.00 834.50 L1165.23 834.50 L1167.47 834.50 L1169.70 834.50 L1171.93 834.50 L1174.16 834.50 L1176.39 834.50 L1178.62 834.50 L1180.85 834.50 L1183.08 834.50 L1185.31 834.50 L1187.54 834.50 L1189.77 834.50 L1192.00 834.50 L1194.23 834.50 L1196.46 834.50 L1198.69 834.50 L1200.92 834.50 L1203.15 834.50 L1205.38 834.50 L1207.61 834.50 L1209.85 834.50 L1212.08 834.50 L1214.31 834.50 L1216.54 834.50 L1218.77 834.50 L1221.00 834.50 L1223.23 834.50 L1225.46 834.50 L1227.69 834.50 L1229.92 834.50 L1232.15 834.50 L1234.38 834.50 L1236.61 834.50 L1238.84 834.50 L1241.07 834.50 L1243.30 834.50 L1245.53 834.50 L1247.76 834.50 L1249.99 834.50 L1252.23 834.50 L1254.46 834.50 L1256.69 834.50 L1258.92 834.50 L1261.15 834.50 L1263.38 834.50 L1265.61 834.50 L1267.84 834.50 L1270.07 834.50 L1272.30 834.50 L1272.30 834.50 Z" fill="#2BA700" fill-opacity="0.4"/>
<path d="M132.50 834.50 L132.50 834.50 L134.73 834.50 L136.96 834.50 L139.19 834.50 L141.42 834.50 L143.65 834.50 L145.88 834.50 L148.11 834.50 L150.34 834.50 L152.57 834.50 L154.81 834.50 L157.04 834.50 L159.27 834.50 L161.50 834.50 L163.73 834.50 L165.96 834.50 L168.19 834.50 L170.42 834.50 L172.65 834.50 L174.88 834.50 L177.11 834.50 L179.34 834.50 L181.57 834.50 L183.80 834.50 L186.03 834.50 L188.26 834.50 L190.49 834.50 L192.72 834.50 L194.95 834.50 L197.19 834.50 L199.42 834.50 L201.65 834.50 L203.88 834.50 L206.11 834.50 L208.34 834.50 L210.57 834.50 L212.80 834.50 L215.03 834.50 L217.26 834.50 L219.49 834.50 L221.72 834.50 L223.95 834.50 L226.18 834.50 L228.41 834.50 L230.64 834.50 L232.87 834.50 L235.10 834.50 L237.33 834.50 L239.57 834.50 L241.80 834.50 L244.03 834.50 L246.26 834.50 L248.49 834.50 L250.72 834.50 L252.95 834.50 L255.18 834.50 L257.41 834.50 L259.64 834.50 L261.87 834.50 L264.10 834.50 L266.33 834.50 L268.56 834.50 L270.79 834.50 L273.02 834.50 L275.25 834.50 L277.48 834.50 L279.71 834.50 L281.95 834.50 L284.18 834.50 L286.41 834.50 L288.64 834.50 L290.87 834.50 L293.10 834.50 L295.33 834.50 L297.56 834.50 L299.79 834.50 L302.02 834.50 L304.25 834.50 L306.48 834.50 L308.71 834.50 L310.94 834.50 L313.17 834.50 L315.40 834.50 L317.63 834.50 L319.86 834.50 L322.09 834.50 L324.33 834.50 L326.56 834.50 L328.79 834.50 L331.02 834.50 L333.25 834.50 L335.48 834.50 L337.71 834.50 L339.94 834.50 L342.17 834.50 L344.40 834.50 L346.63 834.50 L348.86 834.50 L351.09 834.50 L353.32 834.50 L355.55 834.50 L357.78 834.50 L360.01 834.50 L362.24 834.50 L364.47 834.50 L366.71 834.50 L368.94 834.50 L371.17 834.50 L373.40 834.50 L375.63 834.50 L377.86 834.50 L380.09 834.50 L382.32 834.50 L384.55 834.50 L386.78 834.50 L389.01 834.50 L391.24 834.50 L393.47 834.50 L395.70 834.50 L397.93 834.50 L400.16 834.50 L402.39 834.48 L404.62 834.44 L406.85 834.38 L409.09 834.30 L411.32 834.20 L413.55 834.09 L415.78 833.97 L418.01 833.84 L420.24 833.71 L422.47 833.54 L424.70 833.31 L426.93 833.04 L429.16 832.74 L431.39 832.42 L433.62 832.09 L435.85 831.76 L438.08 831.46 L440.31 831.17 L442.54 830.91 L444.77 830.66 L447.00 830.42 L449.24 830.18 L451.47 829.94 L453.70 829.70 L455.93 829.45 L458.16 829.19 L460.39 828.92 L462.62 828.64 L464.85 828.33 L467.08 828.01 L469.31 827.69 L471.54 827.35 L473.77 827.00 L476.00 826.64 L478.23 826.25 L480.46 825.84 L482.69 825.39 L484.92 824.91 L487.15 824.39 L489.38 823.83 L491.62 823.19 L493.85 822.41 L496.08 821.51 L498.31 820.51 L500.54 819.42 L502.77 818.28 L505.00 817.11 L507.23 815.91 L509.46 814.72 L511.69 813.47 L513.92 812.16 L516.15 810.79 L518.38 809.36 L520.61 807.88 L522.84 806.34 L525.07 804.74 L527.30 803.08 L529.53 801.27 L531.76 799.32 L534.00 797.29 L536.23 795.23 L538.46 793.22 L540.69 791.30 L542.92 789.45 L545.15 787.61 L547.38 785.81 L549.61 784.03 L551.84 782.30 L554.07 780.61 L556.30 778.96 L558.53 777.36 L560.76 775.81 L562.99 774.33 L565.22 772.90 L567.45 771.57 L569.68 770.43 L571.91 769.52 L574.14 768.18 L576.38 766.13 L578.61 763.56 L580.84 760.71 L583.07 757.81 L585.30 755.12 L587.53 752.63 L589.76 750.12 L591.99 747.62 L594.22 745.14 L596.45 742.74 L598.68 740.43 L600.91 738.26 L603.14 736.21 L605.37 734.23 L607.60 732.33 L609.83 730.49 L612.06 728.73 L614.29 727.04 L616.52 725.44 L618.76 723.89 L620.99 722.37 L623.22 720.90 L625.45 719.49 L627.68 718.17 L629.91 716.95 L632.14 715.86 L634.37 714.85 L636.60 713.88 L638.83 712.96 L641.06 712.11 L643.29 711.34 L645.52 710.68 L647.75 710.15 L649.98 709.71 L652.21 709.27 L654.44 708.87 L656.67 708.52 L658.90 708.23 L661.14 708.04 L663.37 707.95 L665.60 707.96 L667.83 707.98 L670.06 708.02 L672.29 708.08 L674.52 708.15 L676.75 708.23 L678.98 708.32 L681.21 708.47 L683.44 708.77 L685.67 709.18 L687.90 709.66 L690.13 710.17 L692.36 710.69 L694.59 711.17 L696.82 711.68 L699.05 712.22 L701.28 712.78 L703.52 713.35 L705.75 713.91 L707.98 714.46 L710.21 714.98 L712.44 715.47 L714.67 715.98 L716.90 716.49 L719.13 716.97 L721.36 717.42 L723.59 717.81 L725.82 718.13 L728.05 718.37 L730.28 718.61 L732.51 718.84 L734.74 719.03 L736.97 719.20 L739.20 719.31 L741.43 719.36 L743.66 719.36 L745.90 719.31 L748.13 719.22 L750.36 719.11 L752.59 718.97 L754.82 718.65 L757.05 718.07 L759.28 717.40 L761.51 716.76 L763.74 716.21 L765.97 715.68 L768.20 715.15 L770.43 714.63 L772.66 714.10 L774.89 713.58 L777.12 713.05 L779.35 712.51 L781.58 711.97 L783.81 711.42 L786.04 710.82 L788.28 710.17 L790.51 709.51 L792.74 708.86 L794.97 708.27 L797.20 707.76 L799.43 707.37 L801.66 707.05 L803.89 706.73 L806.12 706.44 L808.35 706.19 L810.58 706.00 L812.81 705.87 L815.04 705.82 L817.27 705.83 L819.50 705.86 L821.73 705.90 L823.96 705.96 L826.19 706.03 L828.42 706.11 L830.66 706.20 L832.89 706.35 L835.12 706.59 L837.35 706.94 L839.58 707.37 L841.81 707.88 L844.04 708.46 L846.27 709.09 L848.50 709.78 L850.73 710.49 L852.96 711.24 L855.19 712.00 L857.42 712.78 L859.65 713.68 L861.88 714.73 L864.11 715.90 L866.34 717.16 L868.57 718.49 L870.80 719.86 L873.04 721.25 L875.27 722.68 L877.50 724.17 L879.73 725.73 L881.96 727.36 L884.19 729.04 L886.42 730.79 L888.65 732.61 L890.88 734.48 L893.11 736.42 L895.34 738.55 L897.57 740.89 L899.80 743.17 L902.03 745.27 L904.26 747.31 L906.49 749.30 L908.72 751.29 L910.95 753.31 L913.18 755.32 L915.42 757.23 L917.65 758.97 L919.88 760.54 L922.11 761.99 L924.34 763.42 L926.57 764.89 L928.80 766.47 L931.03 768.23 L933.26 770.13 L935.49 772.12 L937.72 774.13 L939.95 776.11 L942.18 778.01 L944.41 779.83 L946.64 781.59 L948.87 783.34 L951.10 785.08 L953.33 786.84 L955.56 788.65 L957.80 790.53 L960.03 792.52 L962.26 794.64 L964.49 796.79 L966.72 798.88 L968.95 800.86 L971.18 802.79 L973.41 804.64 L975.64 806.33 L977.87 807.96 L980.10 809.54 L982.33 811.06 L984.56 812.51 L986.79 813.89 L989.02 815.17 L991.25 816.35 L993.48 817.46 L995.71 818.52 L997.95 819.55 L1000.18 820.54 L1002.41 821.48 L1004.64 822.38 L1006.87 823.23 L1009.10 824.04 L1011.33 824.79 L1013.56 825.50 L1015.79 826.15 L1018.02 826.78 L1020.25 827.39 L1022.48 827.97 L1024.71 828.53 L1026.94 829.06 L1029.17 829.56 L1031.40 830.03 L1033.63 830.45 L1035.86 830.84 L1038.09 831.18 L1040.33 831.48 L1042.56 831.78 L1044.79 832.06 L1047.02 832.33 L1049.25 832.58 L1051.48 832.83 L1053.71 833.06 L1055.94 833.27 L1058.17 833.47 L1060.40 833.64 L1062.63 833.80 L1064.86 833.93 L1067.09 834.04 L1069.32 834.13 L1071.55 834.21 L1073.78 834.29 L1076.01 834.35 L1078.24 834.41 L1080.47 834.46 L1082.71 834.49 L1084.94 834.50 L1087.17 834.50 L1089.40 834.50 L1091.63 834.50 L1093.86 834.50 L1096.09 834.50 L1098.32 834.50 L1100.55 834.50 L1102.78 834.50 L1105.01 834.50 L1107.24 834.50 L1109.47 834.50 L1111.70 834.50 L1113.93 834.50 L1116.16 834.50 L1118.39 834.50 L1120.62 834.50 L1122.85 834.50 L1125.09 834.50 L1127.32 834.50 L1129.55 834.50 L1131.78 834.50 L1134.01 834.50 L1136.24 834.50 L1138.47 834.50 L1140.70 834.50 L1142.93 834.50 L1145.16 834.50 L1147.39 834.50 L1149.62 834.50 L1151.85 834.50 L1154.08 834.50 L1156.31 834.50 L1158.54 834.50 L1160.77 834.50 L1163.00 834.50 L1165.23 834.50 L1167.47 834.50 L1169.70 834.50 L1171.93 834.50 L1174.16 834.50 L1176.39 834.50 L1178.62 834.50 L1180.85 834.50 L1183.08 834.50 L1185.31 834.50 L1187.54 834.50 L1189.77 834.50 L1192.00 834.50 L1194.23 834.50 L1196.46 834.50 L1198.69 834.50 L1200.92 834.50 L1203.15 834.50 L1205.38 834.50 L1207.61 834.50 L1209.85 834.50 L1212.08 834.50 L1214.31 834.50 L1216.54 834.50 L1218.77 834.50 L1221.00 834.50 L1223.23 834.50 L1225.46 834.50 L1227.69 834.50 L1229.92 834.50 L1232.15 834.50 L1234.38 834.50 L1236.61 834.50 L1238.84 834.50 L1241.07 834.50 L1243.30 834.50 L1245.53 834.50 L1247.76 834.50 L1249.99 834.50 L1252.23 834.50 L1254.46 834.50 L1256.69 834.50 L1258.92 834.50 L1261.15 834.50 L1263.38 834.50 L1265.61 834.50 L1267.84 834.50 L1270.07 834.50 L1272.30 834.50 L1272.30 834.50 Z" fill="#00B26A" fill-opacity="0.4"/>
<path d="M132.50 834.50 L132.50 813.80 L134.73 813.70 L136.96 813.61 L139.19 813.51 L141.42 813.42 L143.65 813.33 L145.88 813.23 L148.11 813.14 L150.34 813.05 L152.57 812.96 L154.81 812.87 L157.04 812.79 L159.27 812.70 L161.50 812.61 L163.73 812.53 L165.96 812.44 L168.19 812.36 L170.42 812.27 L172.65 812.19 L174.88 812.11 L177.11 812.03 L179.34 811.95 L181.57 811.88 L183.80 811.80 L186.03 811.72 L188.26 811.65 L190.49 811.57 L192.72 811.49 L194.95 811.42 L197.19 811.35 L199.42 811.27 L201.65 811.20 L203.88 811.13 L206.11 811.06 L208.34 810.98 L210.57 810.91 L212.80 810.84 L215.03 810.77 L217.26 810.71 L219.49 810.64 L221.72 810.57 L223.95 810.51 L226.18 810.44 L228.41 810.38 L230.64 810.31 L232.87 810.25 L235.10 810.19 L237.33 810.13 L239.57 810.07 L241.80 810.01 L244.03 809.95 L246.26 809.89 L248.49 809.84 L250.72 809.78 L252.95 809.72 L255.18 809.67 L257.41 809.61 L259.64 809.55 L261.87 809.50 L264.10 809.44 L266.33 809.39 L268.56 809.34 L270.79 809.28 L273.02 809.23 L275.25 809.18 L277.48 809.13 L279.71 809.08 L281.95 809.03 L284.18 808.98 L286.41 808.94 L288.64 808.89 L290.87 808.85 L293.10 808.80 L295.33 808.76 L297.56 808.72 L299.79 808.68 L302.02 808.65 L304.25 808.61 L306.48 808.58 L308.71 808.55 L310.94 808.51 L313.17 808.48 L315.40 808.45 L317.63 808.42 L319.86 808.39 L322.09 808.36 L324.33 808.33 L326.56 808.30 L328.79 808.27 L331.02 808.24 L333.25 808.21 L335.48 808.19 L337.71 808.16 L339.94 808.13 L342.17 808.11 L344.40 808.08 L346.63 808.06 L348.86 808.03 L351.09 808.01 L353.32 807.99 L355.55 807.97 L357.78 807.95 L360.01 807.93 L362.24 807.91 L364.47 807.89 L366.71 807.87 L368.94 807.86 L371.17 807.84 L373.40 807.83 L375.63 807.82 L377.86 807.81 L380.09 807.80 L382.32 807.79 L384.55 807.78 L386.78 807.77 L389.01 807.76 L391.24 807.75 L393.47 807.74 L395.70 807.73 L397.93 807.72 L400.16 807.71 L402.39 807.71 L404.62 807.70 L406.85 807.69 L409.09 807.68 L411.32 807.67 L413.55 807.67 L415.78 807.66 L418.01 807.65 L420.24 807.65 L422.47 807.64 L424.70 807.64 L426.93 807.63 L429.16 807.63 L431.39 807.62 L433.62 807.62 L435.85 807.61 L438.08 807.61 L440.31 807.61 L442.54 807.61 L444.77 807.60 L447.00 807.60 L449.24 807.60 L451.47 807.60 L453.70 807.60 L455.93 807.60 L458.16 807.60 L460.39 807.60 L462.62 807.60 L464.85 807.60 L467.08 807.60 L469.31 807.60 L471.54 807.60 L473.77 807.60 L476.00 807.60 L478.23 807.60 L480.46 807.60 L482.69 807.60 L484.92 807.60 L487.15 807.60 L489.38 807.60 L491.62 807.60 L493.85 807.60 L496.08 807.60 L498.31 807.60 L500.54 807.60 L502.77 807.60 L505.00 807.60 L507.23 807.60 L509.46 807.60 L511.69 807.60 L513.92 807.60 L516.15 807.60 L518.38 807.60 L520.61 807.60 L522.84 807.60 L525.07 807.60 L527.30 807.60 L529.53 807.60 L531.76 807.60 L534.00 807.60 L536.23 807.60 L538.46 807.60 L540.69 807.60 L542.92 807.60 L545.15 807.60 L547.38 807.60 L549.61 807.60 L551.84 807.60 L554.07 807.60 L556.30 807.60 L558.53 807.60 L560.76 807.60 L562.99 807.60 L565.22 807.60 L567.45 807.60 L569.68 807.60 L571.91 807.60 L574.14 807.60 L576.38 807.60 L578.61 807.60 L580.84 807.60 L583.07 807.60 L585.30 807.60 L587.53 807.60 L589.76 807.60 L591.99 807.60 L594.22 807.60 L596.45 807.60 L598.68 807.60 L600.91 807.60 L603.14 807.60 L605.37 807.60 L607.60 807.60 L609.83 807.60 L612.06 807.59 L614.29 807.59 L616.52 807.59 L618.76 807.58 L620.99 807.58 L623.22 807.57 L625.45 807.57 L627.68 807.56 L629.91 807.55 L632.14 807.55 L634.37 807.54 L636.60 807.53 L638.83 807.52 L641.06 807.51 L643.29 807.50 L645.52 807.49 L647.75 807.48 L649.98 807.47 L652.21 807.46 L654.44 807.45 L656.67 807.44 L658.90 807.43 L661.14 807.42 L663.37 807.41 L665.60 807.40 L667.83 807.39 L670.06 807.38 L672.29 807.36 L674.52 807.35 L676.75 807.34 L678.98 807.33 L681.21 807.32 L683.44 807.30 L685.67 807.29 L687.90 807.28 L690.13 807.27 L692.36 807.26 L694.59 807.24 L696.82 807.23 L699.05 807.22 L701.28 807.21 L703.52 807.20 L705.75 807.19 L707.98 807.17 L710.21 807.16 L712.44 807.15 L714.67 807.13 L716.90 807.12 L719.13 807.10 L721.36 807.09 L723.59 807.07 L725.82 807.06 L728.05 807.04 L730.28 807.03 L732.51 807.01 L734.74 806.99 L736.97 806.98 L739.20 806.96 L741.43 806.94 L743.66 806.92 L745.90 806.91 L748.13 806.89 L750.36 806.87 L752.59 806.85 L754.82 806.83 L757.05 806.81 L759.28 806.80 L761.51 806.78 L763.74 806.76 L765.97 806.74 L768.20 806.72 L770.43 806.70 L772.66 806.68 L774.89 806.66 L777.12 806.64 L779.35 806.62 L781.58 806.60 L783.81 806.58 L786.04 806.56 L788.28 806.54 L790.51 806.52 L792.74 806.51 L794.97 806.49 L797.20 806.47 L799.43 806.45 L801.66 806.43 L803.89 806.41 L806.12 806.39 L808.35 806.37 L810.58 806.34 L812.81 806.32 L815.04 806.30 L817.27 806.27 L819.50 806.25 L821.73 806.22 L823.96 806.20 L826.19 806.17 L828.42 806.15 L830.66 806.12 L832.89 806.09 L835.12 806.07 L837.35 806.04 L839.58 806.01 L841.81 805.99 L844.04 805.96 L846.27 805.94 L848.50 805.91 L850.73 805.88 L852.96 805.86 L855.19 805.83 L857.42 805.81 L859.65 805.78 L861.88 805.76 L864.11 805.74 L866.34 805.71 L868.57 805.69 L870.80 805.67 L873.04 805.65 L875.27 805.63 L877.50 805.61 L879.73 805.59 L881.96 805.57 L884.19 805.56 L886.42 805.54 L888.65 805.53 L890.88 805.52 L893.11 805.50 L895.34 805.49 L897.57 805.48 L899.80 805.48 L902.03 805.47 L904.26 805.46 L906.49 805.45 L908.72 805.45 L910.95 805.44 L913.18 805.43 L915.42 805.43 L917.65 805.42 L919.88 805.41 L922.11 805.41 L924.34 805.40 L926.57 805.40 L928.80 805.39 L931.03 805.38 L933.26 805.38 L935.49 805.37 L937.72 805.37 L939.95 805.36 L942.18 805.36 L944.41 805.35 L946.64 805.35 L948.87 805.34 L951.10 805.34 L953.33 805.33 L955.56 805.33 L957.80 805.32 L960.03 805.32 L962.26 805.31 L964.49 805.31 L966.72 805.31 L968.95 805.30 L971.18 805.30 L973.41 805.30 L975.64 805.30 L977.87 805.29 L980.10 805.29 L982.33 805.29 L984.56 805.29 L986.79 805.29 L989.02 805.28 L991.25 805.28 L993.48 805.28 L995.71 805.28 L997.95 805.28 L1000.18 805.28 L1002.41 805.28 L1004.64 805.29 L1006.87 805.30 L1009.10 805.32 L1011.33 805.34 L1013.56 805.36 L1015.79 805.39 L1018.02 805.41 L1020.25 805.44 L1022.48 805.48 L1024.71 805.51 L1026.94 805.54 L1029.17 805.58 L1031.40 805.61 L1033.63 805.65 L1035.86 805.68 L1038.09 805.71 L1040.33 805.75 L1042.56 805.78 L1044.79 805.81 L1047.02 805.83 L1049.25 805.85 L1051.48 805.88 L1053.71 805.90 L1055.94 805.91 L1058.17 805.93 L1060.40 805.95 L1062.63 805.97 L1064.86 805.99 L1067.09 806.00 L1069.32 806.02 L1071.55 806.03 L1073.78 806.05 L1076.01 806.07 L1078.24 806.08 L1080.47 806.10 L1082.71 806.11 L1084.94 806.13 L1087.17 806.15 L1089.40 806.16 L1091.63 806.18 L1093.86 806.20 L1096.09 806.22 L1098.32 806.23 L1100.55 806.25 L1102.78 806.27 L1105.01 806.29 L1107.24 806.31 L1109.47 806.33 L1111.70 806.35 L1113.93 806.37 L1116.16 806.39 L1118.39 806.41 L1120.62 806.44 L1122.85 806.46 L1125.09 806.48 L1127.32 806.50 L1129.55 806.52 L1131.78 806.55 L1134.01 806.57 L1136.24 806.59 L1138.47 806.62 L1140.70 806.64 L1142.93 806.67 L1145.16 806.69 L1147.39 806.72 L1149.62 806.74 L1151.85 806.77 L1154.08 806.79 L1156.31 806.82 L1158.54 806.84 L1160.77 806.87 L1163.00 806.90 L1165.23 806.92 L1167.47 806.95 L1169.70 806.98 L1171.93 807.00 L1174.16 807.03 L1176.39 807.06 L1178.62 807.09 L1180.85 807.12 L1183.08 807.15 L1185.31 807.19 L1187.54 807.22 L1189.77 807.25 L1192.00 807.29 L1194.23 807.32 L1196.46 807.36 L1198.69 807.40 L1200.92 807.43 L1203.15 807.47 L1205.38 807.51 L1207.61 807.56 L1209.85 807.60 L1212.08 807.65 L1214.31 807.69 L1216.54 807.75 L1218.77 807.80 L1221.00 807.86 L1223.23 807.92 L1225.46 807.98 L1227.69 808.04 L1229.92 808.11 L1232.15 808.18 L1234.38 808.25 L1236.61 808.33 L1238.84 808.40 L1241.07 808.48 L1243.30 808.56 L1245.53 808.64 L1247.76 808.72 L1249.99 808.81 L1252.23 808.90 L1254.46 808.98 L1256.69 809.07 L1258.92 809.16 L1261.15 809.26 L1263.38 809.35 L1265.61 809.44 L1267.84 809.54 L1270.07 809.63 L1272.30 809.73 L1272.30 834.50 Z" fill="#00B2B7" fill-opacity="0.4"/>
<path d="M132.50 834.50 L132.50 834.50 L134.73 834.50 L136.96 834.50 L139.19 834.50 L141.42 834.50 L143.65 834.50 L145.88 834.50 L148.11 834.50 L150.34 834.50 L152.57 834.50 L154.81 834.50 L157.04 834.50 L159.27 834.50 L161.50 834.50 L163.73 834.50 L165.96 834.50 L168.19 834.50 L170.42 834.50 L172.65 834.50 L174.88 834.50 L177.11 834.50 L179.34 834.50 L181.57 834.50 L183.80 834.50 L186.03 834.50 L188.26 834.50 L190.49 834.50 L192.72 834.50 L194.95 834.50 L197.19 834.50 L199.42 834.50 L201.65 834.50 L203.88 834.50 L206.11 834.50 L208.34 834.50 L210.57 834.50 L212.80 834.50 L215.03 834.50 L217.26 834.50 L219.49 834.50 L221.72 834.50 L223.95 834.50 L226.18 834.50 L228.41 834.50 L230.64 834.50 L232.87 834.50 L235.10 834.50 L237.33 834.50 L239.57 834.50 L241.80 834.50 L244.03 834.50 L246.26 834.50 L248.49 834.50 L250.72 834.50 L252.95 834.50 L255.18 834.50 L257.41 834.50 L259.64 834.50 L261.87 834.50 L264.10 834.50 L266.33 834.50 L268.56 834.50 L270.79 834.50 L273.02 834.50 L275.25 834.50 L277.48 834.50 L279.71 834.50 L281.95 834.50 L284.18 834.50 L286.41 834.50 L288.64 834.50 L290.87 834.50 L293.10 834.50 L295.33 834.50 L297.56 834.50 L299.79 834.50 L302.02 834.50 L304.25 834.50 L306.48 834.50 L308.71 834.50 L310.94 834.50 L313.17 834.50 L315.40 834.50 L317.63 834.50 L319.86 834.50 L322.09 834.50 L324.33 834.50 L326.56 834.50 L328.79 834.50 L331.02 834.50 L333.25 834.50 L335.48 834.50 L337.71 834.50 L339.94 834.50 L342.17 834.50 L344.40 834.50 L346.63 834.50 L348.86 834.50 L351.09 834.50 L353.32 834.50 L355.55 834.50 L357.78 834.50 L360.01 834.50 L362.24 834.50 L364.47 834.50 L366.71 834.50 L368.94 834.50 L371.17 834.50 L373.40 834.50 L375.63 834.50 L377.86 834.50 L380.09 834.50 L382.32 834.50 L384.55 834.50 L386.78 834.50 L389.01 834.50 L391.24 834.50 L393.47 834.50 L395.70 834.50 L397.93 834.50 L400.16 834.50 L402.39 834.50 L404.62 834.50 L406.85 834.50 L409.09 834.50 L411.32 834.50 L413.55 834.50 L415.78 834.50 L418.01 834.50 L420.24 834.50 L422.47 834.50 L424.70 834.50 L426.93 834.50 L429.16 834.50 L431.39 834.49 L433.62 834.46 L435.85 834.40 L438.08 834.31 L440.31 834.21 L442.54 834.08 L444.77 833.93 L447.00 833.77 L449.24 833.59 L451.47 833.36 L453.70 832.96 L455.93 832.51 L458.16 832.14 L460.39 831.86 L462.62 831.60 L464.85 831.37 L467.08 831.14 L469.31 830.92 L471.54 830.67 L473.77 830.41 L476.00 830.10 L478.23 829.78 L480.46 829.44 L482.69 829.08 L484.92 828.68 L487.15 828.25 L489.38 827.77 L491.62 827.24 L493.85 826.63 L496.08 825.95 L498.31 825.20 L500.54 824.40 L502.77 823.54 L505.00 822.63 L507.23 821.68 L509.46 820.68 L511.69 819.60 L513.92 818.43 L516.15 817.18 L518.38 815.85 L520.61 814.43 L522.84 812.94 L525.07 811.38 L527.30 809.74 L529.53 807.89 L531.76 805.84 L534.00 803.66 L536.23 801.43 L538.46 799.21 L540.69 797.08 L542.92 795.01 L545.15 792.94 L547.38 790.87 L549.61 788.81 L551.84 786.75 L554.07 784.70 L556.30 782.64 L558.53 780.58 L560.76 778.54 L562.99 776.53 L565.22 774.56 L567.45 772.62 L569.68 770.72 L571.91 768.90 L574.14 767.15 L576.38 765.01 L578.61 762.48 L580.84 759.71 L583.07 756.89 L585.30 754.16 L587.53 751.59 L589.76 749.03 L591.99 746.50 L594.22 743.99 L596.45 741.50 L598.68 739.02 L600.91 736.57 L603.14 734.13 L605.37 731.70 L607.60 729.28 L609.83 726.89 L612.06 724.52 L614.29 722.21 L616.52 719.94 L618.76 717.71 L620.99 715.51 L623.22 713.33 L625.45 711.20 L627.68 709.12 L629.91 707.11 L632.14 705.16 L634.37 703.28 L636.60 701.42 L638.83 699.60 L641.06 697.84 L643.29 696.15 L645.52 694.56 L647.75 693.08 L649.98 691.67 L652.21 690.29 L654.44 688.95 L656.67 687.69 L658.90 686.54 L661.14 685.52 L663.37 684.67 L665.60 683.94 L667.83 683.24 L670.06 682.59 L672.29 682.00 L674.52 681.51 L676.75 681.13 L678.98 680.89 L681.21 680.76 L683.44 680.64 L685.67 680.55 L687.90 680.49 L690.13 680.47 L692.36 680.62 L694.59 680.94 L696.82 681.35 L699.05 681.82 L701.28 682.45 L703.52 683.20 L705.75 684.04 L707.98 684.94 L710.21 685.85 L712.44 686.76 L714.67 687.73 L716.90 688.76 L719.13 689.84 L721.36 690.95 L723.59 692.11 L725.82 693.30 L728.05 694.51 L730.28 695.74 L732.51 697.00 L734.74 698.32 L736.97 699.72 L739.20 701.16 L741.43 702.62 L743.66 704.08 L745.90 705.51 L748.13 706.88 L750.36 708.19 L752.59 709.47 L754.82 710.73 L757.05 711.98 L759.28 713.23 L761.51 714.50 L763.74 715.79 L765.97 717.08 L768.20 718.38 L770.43 719.71 L772.66 721.09 L774.89 722.56 L777.12 724.15 L779.35 725.78 L781.58 727.39 L783.81 728.89 L786.04 730.29 L788.28 731.64 L790.51 732.94 L792.74 734.21 L794.97 735.47 L797.20 736.74 L799.43 738.01 L801.66 739.26 L803.89 740.47 L806.12 741.63 L808.35 742.71 L810.58 743.70 L812.81 744.68 L815.04 745.64 L817.27 746.58 L819.50 747.48 L821.73 748.32 L823.96 749.09 L826.19 749.78 L828.42 750.37 L830.66 750.85 L832.89 751.28 L835.12 751.68 L837.35 752.06 L839.58 752.42 L841.81 752.76 L844.04 753.08 L846.27 753.37 L848.50 753.65 L850.73 753.91 L852.96 754.15 L855.19 754.38 L857.42 754.58 L859.65 754.78 L861.88 754.96 L864.11 755.13 L866.34 755.28 L868.57 755.41 L870.80 755.53 L873.04 755.64 L875.27 755.74 L877.50 755.84 L879.73 755.94 L881.96 756.04 L884.19 756.15 L886.42 756.27 L888.65 756.40 L890.88 756.54 L893.11 756.70 L895.34 756.87 L897.57 757.06 L899.80 757.26 L902.03 757.48 L904.26 757.73 L906.49 757.99 L908.72 758.28 L910.95 758.61 L913.18 758.96 L915.42 759.39 L917.65 759.94 L919.88 760.59 L922.11 761.32 L924.34 762.12 L926.57 762.96 L928.80 763.83 L931.03 764.70 L933.26 765.62 L935.49 766.65 L937.72 767.74 L939.95 768.80 L942.18 769.75 L944.41 770.54 L946.64 771.25 L948.87 771.99 L951.10 772.88 L953.33 774.02 L955.56 775.42 L957.80 777.02 L960.03 778.75 L962.26 780.55 L964.49 782.36 L966.72 784.12 L968.95 785.77 L971.18 787.34 L973.41 788.90 L975.64 790.45 L977.87 791.98 L980.10 793.51 L982.33 795.03 L984.56 796.55 L986.79 798.09 L989.02 799.63 L991.25 801.11 L993.48 802.45 L995.71 803.71 L997.95 804.92 L1000.18 806.10 L1002.41 807.23 L1004.64 808.33 L1006.87 809.41 L1009.10 810.45 L1011.33 811.48 L1013.56 812.49 L1015.79 813.48 L1018.02 814.47 L1020.25 815.45 L1022.48 816.42 L1024.71 817.38 L1026.94 818.32 L1029.17 819.24 L1031.40 820.13 L1033.63 820.98 L1035.86 821.79 L1038.09 822.56 L1040.33 823.28 L1042.56 823.97 L1044.79 824.63 L1047.02 825.27 L1049.25 825.88 L1051.48 826.46 L1053.71 827.02 L1055.94 827.55 L1058.17 828.05 L1060.40 828.52 L1062.63 828.95 L1064.86 829.38 L1067.09 829.78 L1069.32 830.17 L1071.55 830.53 L1073.78 830.88 L1076.01 831.21 L1078.24 831.51 L1080.47 831.79 L1082.71 832.05 L1084.94 832.30 L1087.17 832.54 L1089.40 832.77 L1091.63 832.99 L1093.86 833.19 L1096.09 833.38 L1098.32 833.54 L1100.55 833.68 L1102.78 833.81 L1105.01 833.93 L1107.24 834.05 L1109.47 834.17 L1111.70 834.27 L1113.93 834.36 L1116.16 834.43 L1118.39 834.48 L1120.62 834.50 L1122.85 834.50 L1125.09 834.50 L1127.32 834.50 L1129.55 834.50 L1131.78 834.50 L1134.01 834.50 L1136.24 834.50 L1138.47 834.50 L1140.70 834.50 L1142.93 834.50 L1145.16 834.50 L1147.39 834.50 L1149.62 834.50 L1151.85 834.50 L1154.08 834.50 L1156.31 834.50 L1158.54 834.50 L1160.77 834.50 L1163.00 834.50 L1165.23 834.50 L1167.47 834.50 L1169.70 834.50 L1171.93 834.50 L1174.16 834.50 L1176.39 834.50 L1178.62 834.50 L1180.85 834.50 L1183.08 834.50 L1185.31 834.50 L1187.54 834.50 L1189.77 834.50 L1192.00 834.50 L1194.23 834.50 L1196.46 834.50 L1198.69 834.50 L1200.92 834.50 L1203.15 834.50 L1205.38 834.50 L1207.61 834.50 L1209.85 834.50 L1212.08 834.50 L1214.31 834.50 L1216.54 834.50 L1218.77 834.50 L1221.00 834.50 L1223.23 834.50 L1225.46 834.50 L1227.69 834.50 L1229.92 834.50 L1232.15 834.50 L1234.38 834.50 L1236.61 834.50 L1238.84 834.50 L1241.07 834.50 L1243.30 834.50 L1245.53 834.50 L1247.76 834.50 L1249.99 834.50 L1252.23 834.50 L1254.46 834.50 L1256.69 834.50 L1258.92 834.50 L1261.15 834.50 L1263.38 834.50 L1265.61 834.50 L1267.84 834.50 L1270.07 834.50 L1272.30 834.50 L1272.30 834.50 Z" fill="#00A0F4" fill-opacity="0.4"/>
<path d="M132.50 834.50 L132.50 834.50 L134.73 834.50 L136.96 834.50 L139.19 834.50 L141.42 834.50 L143.65 834.50 L145.88 834.50 L148.11 834.50 L150.34 834.50 L152.57 834.50 L154.81 834.50 L157.04 834.50 L159.27 834.50 L161.50 834.50 L163.73 834.50 L165.96 834.50 L168.19 834.50 L170.42 834.50 L172.65 834.50 L174.88 834.50 L177.11 834.50 L179.34 834.50 L181.57 834.50 L183.80 834.50 L186.03 834.50 L188.26 834.50 L190.49 834.50 L192.72 834.50 L194.95 834.50 L197.19 834.50 L199.42 834.50 L201.65 834.50 L203.88 834.50 L206.11 834.50 L208.34 834.50 L210.57 834.50 L212.80 834.50 L215.03 834.50 L217.26 834.50 L219.49 834.50 L221.72 834.50 L223.95 834.50 L226.18 834.50 L228.41 834.50 L230.64 834.50 L232.87 834.50 L235.10 834.50 L237.33 834.50 L239.57 834.50 L241.80 834.50 L244.03 834.50 L246.26 834.50 L248.49 834.50 L250.72 834.50 L252.95 834.50 L255.18 834.50 L257.41 834.50 L259.64 834.50 L261.87 834.50 L264.10 834.50 L266.33 834.50 L268.56 834.50 L270.79 834.50 L273.02 834.50 L275.25 834.50 L277.48 834.50 L279.71 834.50 L281.95 834.50 L284.18 834.50 L286.41 834.50 L288.64 834.50 L290.87 834.50 L293.10 834.50 L295.33 834.50 L297.56 834.50 L299.79 834.50 L302.02 834.50 L304.25 834.50 L306.48 834.50 L308.71 834.50 L310.94 834.50 L313.17 834.50 L315.40 834.50 L317.63 834.50 L319.86 834.50 L322.09 834.50 L324.33 834.50 L326.56 834.50 L328.79 834.50 L331.02 834.50 L333.25 834.50 L335.48 834.50 L337.71 834.50 L339.94 834.50 L342.17 834.50 L344.40 834.50 L346.63 834.50 L348.86 834.50 L351.09 834.50 L353.32 834.50 L355.55 834.50 L357.78 834.50 L360.01 834.50 L362.24 834.50 L364.47 834.50 L366.71 834.50 L368.94 834.50 L371.17 834.50 L373.40 834.50 L375.63 834.50 L377.86 834.50 L380.09 834.50 L382.32 834.50 L384.55 834.50 L386.78 834.50 L389.01 834.50 L391.24 834.50 L393.47 834.50 L395.70 834.50 L397.93 834.50 L400.16 834.50 L402.39 834.48 L404.62 834.43 L406.85 834.34 L409.09 834.24 L411.32 834.12 L413.55 833.98 L415.78 833.83 L418.01 833.67 L420.24 833.52 L422.47 833.33 L424.70 833.09 L426.93 832.82 L429.16 832.52 L431.39 832.20 L433.62 831.88 L435.85 831.56 L438.08 831.26 L440.31 830.98 L442.54 830.72 L444.77 830.47 L447.00 830.22 L449.24 829.98 L451.47 829.75 L453.70 829.50 L455.93 829.26 L458.16 829.00 L460.39 828.73 L462.62 828.44 L464.85 828.14 L467.08 827.82 L469.31 827.49 L471.54 827.16 L473.77 826.81 L476.00 826.45 L478.23 826.06 L480.46 825.64 L482.69 825.20 L484.92 824.72 L487.15 824.20 L489.38 823.63 L491.62 822.99 L493.85 822.22 L496.08 821.31 L498.31 820.31 L500.54 819.23 L502.77 818.09 L505.00 816.91 L507.23 815.72 L509.46 814.52 L511.69 813.28 L513.92 811.97 L516.15 810.60 L518.38 809.17 L520.61 807.68 L522.84 806.14 L525.07 804.55 L527.30 802.89 L529.53 801.08 L531.76 799.13 L534.00 797.09 L536.23 795.04 L538.46 793.03 L540.69 791.11 L542.92 789.26 L545.15 787.42 L547.38 785.61 L549.61 783.84 L551.84 782.10 L554.07 780.42 L556.30 778.77 L558.53 777.17 L560.76 775.61 L562.99 774.13 L565.22 772.71 L567.45 771.37 L569.68 770.24 L571.91 769.32 L574.14 767.99 L576.38 765.90 L578.61 763.28 L580.84 760.38 L583.07 757.45 L585.30 754.73 L587.53 752.25 L589.76 749.77 L591.99 747.30 L594.22 744.87 L596.45 742.51 L598.68 740.23 L600.91 738.07 L603.14 736.01 L605.37 734.00 L607.60 732.06 L609.83 730.19 L612.06 728.39 L614.29 726.68 L616.52 725.05 L618.76 723.49 L620.99 721.97 L623.22 720.50 L625.45 719.10 L627.68 717.78 L629.91 716.57 L632.14 715.47 L634.37 714.47 L636.60 713.50 L638.83 712.57 L641.06 711.72 L643.29 710.95 L645.52 710.30 L647.75 709.76 L649.98 709.32 L652.21 708.89 L654.44 708.48 L656.67 708.13 L658.90 707.85 L661.14 707.65 L663.37 707.57 L665.60 707.57 L667.83 707.59 L670.06 707.64 L672.29 707.69 L674.52 707.76 L676.75 707.84 L678.98 707.93 L681.21 708.09 L683.44 708.38 L685.67 708.79 L687.90 709.27 L690.13 709.79 L692.36 710.30 L694.59 710.79 L696.82 711.29 L699.05 711.83 L701.28 712.39 L703.52 712.96 L705.75 713.53 L707.98 714.08 L710.21 714.59 L712.44 715.09 L714.67 715.59 L716.90 716.10 L719.13 716.59 L721.36 717.04 L723.59 717.43 L725.82 717.74 L728.05 717.99 L730.28 718.23 L732.51 718.45 L734.74 718.65 L736.97 718.81 L739.20 718.92 L741.43 718.98 L743.66 718.97 L745.90 718.92 L748.13 718.84 L750.36 718.72 L752.59 718.59 L754.82 718.26 L757.05 717.69 L759.28 717.01 L761.51 716.37 L763.74 715.83 L765.97 715.29 L768.20 714.76 L770.43 714.24 L772.66 713.71 L774.89 713.19 L777.12 712.66 L779.35 712.12 L781.58 711.58 L783.81 711.03 L786.04 710.43 L788.28 709.79 L790.51 709.12 L792.74 708.48 L794.97 707.88 L797.20 707.37 L799.43 706.98 L801.66 706.66 L803.89 706.35 L806.12 706.06 L808.35 705.81 L810.58 705.61 L812.81 705.48 L815.04 705.44 L817.27 705.45 L819.50 705.47 L821.73 705.52 L823.96 705.58 L826.19 705.65 L828.42 705.73 L830.66 705.82 L832.89 705.96 L835.12 706.21 L837.35 706.55 L839.58 706.99 L841.81 707.50 L844.04 708.07 L846.27 708.71 L848.50 709.39 L850.73 710.11 L852.96 710.85 L855.19 711.62 L857.42 712.39 L859.65 713.29 L861.88 714.34 L864.11 715.51 L866.34 716.78 L868.57 718.11 L870.80 719.48 L873.04 720.86 L875.27 722.29 L877.50 723.79 L879.73 725.35 L881.96 726.97 L884.19 728.66 L886.42 730.41 L888.65 732.22 L890.88 734.10 L893.11 736.03 L895.34 738.16 L897.57 740.50 L899.80 742.78 L902.03 744.89 L904.26 746.92 L906.49 748.91 L908.72 750.90 L910.95 752.92 L913.18 754.93 L915.42 756.85 L917.65 758.59 L919.88 760.15 L922.11 761.61 L924.34 763.03 L926.57 764.50 L928.80 766.09 L931.03 767.84 L933.26 769.74 L935.49 771.73 L937.72 773.74 L939.95 775.73 L942.18 777.62 L944.41 779.44 L946.64 781.21 L948.87 782.95 L951.10 784.69 L953.33 786.45 L955.56 788.26 L957.80 790.14 L960.03 792.13 L962.26 794.25 L964.49 796.40 L966.72 798.49 L968.95 800.47 L971.18 802.41 L973.41 804.25 L975.64 805.95 L977.87 807.57 L980.10 809.15 L982.33 810.67 L984.56 812.12 L986.79 813.50 L989.02 814.78 L991.25 815.97 L993.48 817.07 L995.71 818.14 L997.95 819.16 L1000.18 820.15 L1002.41 821.09 L1004.64 821.99 L1006.87 822.84 L1009.10 823.65 L1011.33 824.41 L1013.56 825.11 L1015.79 825.77 L1018.02 826.39 L1020.25 827.00 L1022.48 827.58 L1024.71 828.13 L1026.94 828.66 L1029.17 829.16 L1031.40 829.62 L1033.63 830.05 L1035.86 830.44 L1038.09 830.79 L1040.33 831.11 L1042.56 831.41 L1044.79 831.70 L1047.02 831.98 L1049.25 832.24 L1051.48 832.50 L1053.71 832.74 L1055.94 832.96 L1058.17 833.17 L1060.40 833.36 L1062.63 833.53 L1064.86 833.69 L1067.09 833.83 L1069.32 833.95 L1071.55 834.06 L1073.78 834.17 L1076.01 834.27 L1078.24 834.36 L1080.47 834.44 L1082.71 834.48 L1084.94 834.50 L1087.17 834.50 L1089.40 834.50 L1091.63 834.50 L1093.86 834.50 L1096.09 834.50 L1098.32 834.50 L1100.55 834.50 L1102.78 834.50 L1105.01 834.50 L1107.24 834.50 L1109.47 834.50 L1111.70 834.50 L1113.93 834.50 L1116.16 834.50 L1118.39 834.50 L1120.62 834.50 L1122.85 834.50 L1125.09 834.50 L1127.32 834.50 L1129.55 834.50 L1131.78 834.50 L1134.01 834.50 L1136.24 834.50 L1138.47 834.50 L1140.70 834.50 L1142.93 834.50 L1145.16 834.50 L1147.39 834.50 L1149.62 834.50 L1151.85 834.50 L1154.08 834.50 L1156.31 834.50 L1158.54 834.50 L1160.77 834.50 L1163.00 834.50 L1165.23 834.50 L1167.47 834.50 L1169.70 834.50 L1171.93 834.50 L1174.16 834.50 L1176.39 834.50 L1178.62 834.50 L1180.85 834.50 L1183.08 834.50 L1185.31 834.50 L1187.54 834.50 L1189.77 834.50 L1192.00 834.50 L1194.23 834.50 L1196.46 834.50 L1198.69 834.50 L1200.92 834.50 L1203.15 834.50 L1205.38 834.50 L1207.61 834.50 L1209.85 834.50 L1212.08 834.50 L1214.31 834.50 L1216.54 834.50 L1218.77 834.50 L1221.00 834.50 L1223.23 834.50 L1225.46 834.50 L1227.69 834.50 L1229.92 834.50 L1232.15 834.50 L1234.38 834.50 L1236.61 834.50 L1238.84 834.50 L1241.07 834.50 L1243.30 834.50 L1245.53 834.50 L1247.76 834.50 L1249.99 834.50 L1252.23 834.50 L1254.46 834.50 L1256.69 834.50 L1258.92 834.50 L1261.15 834.50 L1263.38 834.50 L1265.61 834.50 L1267.84 834.50 L1270.07 834.50 L1272.30 834.50 L1272.30 834.50 Z" fill="#837DFF" fill-opacity="0.4"/>
<path d="M132.50 834.50 L132.50 834.50 L134.73 834.50 L136.96 834.50 L139.19 834.50 L141.42 834.50 L143.65 834.50 L145.88 834.50 L148.11 834.50 L150.34 834.50 L152.57 834.50 L154.81 834.50 L157.04 834.50 L159.27 834.50 L161.50 834.50 L163.73 834.50 L165.96 834.50 L168.19 834.50 L170.42 834.50 L172.65 834.50 L174.88 834.50 L177.11 834.50 L179.34 834.50 L181.57 834.50 L183.80 834.50 L186.03 834.50 L188.26 834.50 L190.49 834.50 L192.72 834.50 L194.95 834.50 L197.19 834.50 L199.42 834.50 L201.65 834.50 L203.88 834.50 L206.11 834.50 L208.34 834.50 L210.57 834.50 L212.80 834.50 L215.03 834.50 L217.26 834.50 L219.49 834.50 L221.72 834.50 L223.95 834.50 L226.18 834.50 L228.41 834.50 L230.64 834.50 L232.87 834.50 L235.10 834.50 L237.33 834.50 L239.57 834.50 L241.80 834.50 L244.03 834.50 L246.26 834.50 L248.49 834.50 L250.72 834.50 L252.95 834.50 L255.18 834.50 L257.41 834.50 L259.64 834.50 L261.87 834.50 L264.10 834.50 L266.33 834.50 L268.56 834.50 L270.79 834.50 L273.02 834.50 L275.25 834.50 L277.48 834.50 L279.71 834.50 L281.95 834.50 L284.18 834.50 L286.41 834.50 L288.64 834.50 L290.87 834.50 L293.10 834.50 L295.33 834.50 L297.56 834.50 L299.79 834.50 L302.02 834.50 L304.25 834.50 L306.48 834.50 L308.71 834.50 L310.94 834.50 L313.17 834.50 L315.40 834.50 L317.63 834.50 L319.86 834.50 L322.09 834.50 L324.33 834.50 L326.56 834.50 L328.79 834.50 L331.02 834.50 L333.25 834.50 L335.48 834.50 L337.71 834.50 L339.94 834.50 L342.17 834.50 L344.40 834.50 L346.63 834.50 L348.86 834.50 L351.09 834.50 L353.32 834.50 L355.55 834.50 L357.78 834.50 L360.01 834.50 L362.24 834.50 L364.47 834.50 L366.71 834.50 L368.94 834.50 L371.17 834.50 L373.40 834.50 L375.63 834.50 L377.86 834.50 L380.09 834.50 L382.32 834.50 L384.55 834.50 L386.78 834.50 L389.01 834.50 L391.24 834.50 L393.47 834.50 L395.70 834.50 L397.93 834.50 L400.16 834.50 L402.39 834.50 L404.62 834.50 L406.85 834.50 L409.09 834.50 L411.32 834.50 L413.55 834.50 L415.78 834.50 L418.01 834.50 L420.24 834.50 L422.47 834.50 L424.70 834.50 L426.93 834.50 L429.16 834.50 L431.39 834.50 L433.62 834.50 L435.85 834.50 L438.08 834.50 L440.31 834.50 L442.54 834.50 L444.77 834.50 L447.00 834.50 L449.24 834.50 L451.47 834.50 L453.70 834.50 L455.93 834.50 L458.16 834.50 L460.39 834.50 L462.62 834.50 L464.85 834.50 L467.08 834.50 L469.31 834.50 L471.54 834.50 L473.77 834.50 L476.00 834.50 L478.23 834.50 L480.46 834.50 L482.69 834.50 L484.92 834.50 L487.15 834.50 L489.38 834.50 L491.62 834.50 L493.85 834.50 L496.08 834.50 L498.31 834.50 L500.54 834.50 L502.77 834.50 L505.00 834.50 L507.23 834.50 L509.46 834.50 L511.69 834.50 L513.92 834.50 L516.15 834.50 L518.38 834.50 L520.61 834.50 L522.84 834.50 L525.07 834.50 L527.30 834.50 L529.53 834.50 L531.76 834.50 L534.00 834.50 L536.23 834.50 L538.46 834.50 L540.69 834.50 L542.92 834.50 L545.15 834.50 L547.38 834.50 L549.61 834.50 L551.84 834.50 L554.07 834.50 L556.30 834.50 L558.53 834.50 L560.76 834.50 L562.99 834.50 L565.22 834.50 L567.45 834.50 L569.68 834.50 L571.91 834.50 L574.14 834.50 L576.38 834.50 L578.61 834.50 L580.84 834.50 L583.07 834.50 L585.30 834.50 L587.53 834.50 L589.76 834.50 L591.99 834.50 L594.22 834.50 L596.45 834.50 L598.68 834.50 L600.91 834.50 L603.14 834.50 L605.37 834.50 L607.60 834.50 L609.83 834.50 L612.06 834.50 L614.29 834.50 L616.52 834.50 L618.76 834.50 L620.99 834.50 L623.22 834.50 L625.45 834.50 L627.68 834.50 L629.91 834.50 L632.14 834.50 L634.37 834.50 L636.60 834.50 L638.83 834.50 L641.06 834.50 L643.29 834.49 L645.52 834.49 L647.75 834.48 L649.98 834.46 L652.21 834.43 L654.44 834.37 L656.67 834.29 L658.90 834.15 L661.14 833.92 L663.37 833.58 L665.60 833.04 L667.83 832.24 L670.06 831.05 L672.29 829.31 L674.52 826.83 L676.75 823.33 L678.98 818.49 L681.21 811.93 L683.44 803.17 L685.67 791.70 L687.90 776.96 L690.13 758.36 L692.36 735.33 L694.59 707.38 L696.82 674.12 L699.05 635.35 L701.28 591.11 L703.52 541.74 L705.75 487.91 L707.98 430.66 L710.21 371.38 L712.44 311.77 L714.67 253.81 L716.90 199.59 L719.13 151.27 L721.36 110.87 L723.59 80.18 L725.82 60.60 L728.05 53.03 L730.28 58.04 L732.51 75.70 L734.74 105.14 L736.97 144.96 L739.20 193.31 L741.43 248.05 L743.66 306.91 L745.90 367.62 L748.13 428.07 L750.36 486.40 L752.59 541.08 L754.82 590.95 L757.05 635.24 L759.28 673.49 L761.51 705.55 L763.74 731.49 L765.97 751.55 L768.20 766.02 L770.43 775.26 L772.66 779.60 L774.89 779.37 L777.12 774.85 L779.35 766.30 L781.58 754.01 L783.81 738.32 L786.04 719.64 L788.28 698.52 L790.51 675.63 L792.74 651.79 L794.97 627.96 L797.20 605.17 L799.43 584.50 L801.66 566.98 L803.89 553.54 L806.12 544.90 L808.35 541.56 L810.58 543.70 L812.81 551.21 L815.04 563.67 L817.27 580.41 L819.50 600.57 L821.73 623.15 L823.96 647.11 L826.19 671.45 L828.42 695.28 L830.66 717.85 L832.89 738.58 L835.12 757.10 L837.35 773.21 L839.58 786.87 L841.81 798.18 L844.04 807.32 L846.27 814.54 L848.50 820.11 L850.73 824.32 L852.96 827.44 L855.19 829.69 L857.42 831.28 L859.65 832.39 L861.88 833.14 L864.11 833.64 L866.34 833.97 L868.57 834.18 L870.80 834.31 L873.04 834.39 L875.27 834.43 L877.50 834.46 L879.73 834.48 L881.96 834.49 L884.19 834.49 L886.42 834.50 L888.65 834.50 L890.88 834.50 L893.11 834.50 L895.34 834.50 L897.57 834.50 L899.80 834.50 L902.03 834.50 L904.26 834.50 L906.49 834.50 L908.72 834.50 L910.95 834.50 L913.18 834.50 L915.42 834.50 L917.65 834.50 L919.88 834.50 L922.11 834.50 L924.34 834.50 L926.57 834.50 L928.80 834.50 L931.03 834.50 L933.26 834.50 L935.49 834.50 L937.72 834.50 L939.95 834.50 L942.18 834.50 L944.41 834.50 L946.64 834.50 L948.87 834.50 L951.10 834.50 L953.33 834.50 L955.56 834.50 L957.80 834.50 L960.03 834.50 L962.26 834.50 L964.49 834.50 L966.72 834.50 L968.95 834.50 L971.18 834.50 L973.41 834.50 L975.64 834.50 L977.87 834.50 L980.10 834.50 L982.33 834.50 L984.56 834.50 L986.79 834.50 L989.02 834.50 L991.25 834.50 L993.48 834.50 L995.71 834.50 L997.95 834.50 L1000.18 834.50 L1002.41 834.50 L1004.64 834.50 L1006.87 834.50 L1009.10 834.50 L1011.33 834.50 L1013.56 834.50 L1015.79 834.50 L1018.02 834.50 L1020.25 834.50 L1022.48 834.50 L1024.71 834.50 L1026.94 834.50 L1029.17 834.50 L1031.40 834.50 L1033.63 834.50 L1035.86 834.50 L1038.09 834.50 L1040.33 834.50 L1042.56 834.50 L1044.79 834.50 L1047.02 834.50 L1049.25 834.50 L1051.48 834.50 L1053.71 834.50 L1055.94 834.50 L1058.17 834.50 L1060.40 834.50 L1062.63 834.50 L1064.86 834.50 L1067.09 834.50 L1069.32 834.50 L1071.55 834.50 L1073.78 834.50 L1076.01 834.50 L1078.24 834.50 L1080.47 834.50 L1082.71 834.50 L1084.94 834.50 L1087.17 834.50 L1089.40 834.50 L1091.63 834.50 L1093.86 834.50 L1096.09 834.50 L1098.32 834.50 L1100.55 834.50 L1102.78 834.50 L1105.01 834.50 L1107.24 834.50 L1109.47 834.50 L1111.70 834.50 L1113.93 834.50 L1116.16 834.50 L1118.39 834.50 L1120.62 834.50 L1122.85 834.50 L1125.09 834.50 L1127.32 834.50 L1129.55 834.50 L1131.78 834.50 L1134.01 834.50 L1136.24 834.50 L1138.47 834.50 L1140.70 834.50 L1142.93 834.50 L1145.16 834.50 L1147.39 834.50 L1149.62 834.50 L1151.85 834.50 L1154.08 834.50 L1156.31 834.50 L1158.54 834.50 L1160.77 834.50 L1163.00 834.50 L1165.23 834.50 L1167.47 834.50 L1169.70 834.50 L1171.93 834.50 L1174.16 834.50 L1176.39 834.50 L1178.62 834.50 L1180.85 834.50 L1183.08 834.50 L1185.31 834.50 L1187.54 834.50 L1189.77 834.50 L1192.00 834.50 L1194.23 834.50 L1196.46 834.50 L1198.69 834.50 L1200.92 834.50 L1203.15 834.50 L1205.38 834.50 L1207.61 834.50 L1209.85 834.50 L1212.08 834.50 L1214.31 834.50 L1216.54 834.50 L1218.77 834.50 L1221.00 834.50 L1223.23 834.50 L1225.46 834.50 L1227.69 834.50 L1229.92 834.50 L1232.15 834.50 L1234.38 834.50 L1236.61 834.50 L1238.84 834.50 L1241.07 834.50 L1243.30 834.50 L1245.53 834.50 L1247.76 834.50 L1249.99 834.50 L1252.23 834.50 L1254.46 834.50 L1256.69 834.50 L1258.92 834.50 L1261.15 834.50 L1263.38 834.50 L1265.61 834.50 L1267.84 834.50 L1270.07 834.50 L1272.30 834.50 L1272.30 834.50 Z" fill="#E158F0" fill-opacity="0.4"/>
<path d="M132.50 834.50 L132.50 834.50 L134.73 834.50 L136.96 834.50 L139.19 834.50 L141.42 834.50 L143.65 834.50 L145.88 834.50 L148.11 834.50 L150.34 834.50 L152.57 834.50 L154.81 834.50 L157.04 834.50 L159.27 834.50 L161.50 834.50 L163.73 834.50 L165.96 834.50 L168.19 834.50 L170.42 834.50 L172.65 834.50 L174.88 834.50 L177.11 834.50 L179.34 834.50 L181.57 834.50 L183.80 834.50 L186.03 834.50 L188.26 834.50 L190.49 834.50 L192.72 834.50 L194.95 834.50 L197.19 834.50 L199.42 834.50 L201.65 834.50 L203.88 834.50 L206.11 834.50 L208.34 834.50 L210.57 834.50 L212.80 834.50 L215.03 834.50 L217.26 834.50 L219.49 834.50 L221.72 834.50 L223.95 834.50 L226.18 834.50 L228.41 834.50 L230.64 834.50 L232.87 834.50 L235.10 834.50 L237.33 834.50 L239.57 834.50 L241.80 834.50 L244.03 834.50 L246.26 834.50 L248.49 834.50 L250.72 834.50 L252.95 834.50 L255.18 834.50 L257.41 834.50 L259.64 834.50 L261.87 834.50 L264.10 834.50 L266.33 834.50 L268.56 834.50 L270.79 834.50 L273.02 834.50 L275.25 834.50 L277.48 834.50 L279.71 834.50 L281.95 834.50 L284.18 834.50 L286.41 834.50 L288.64 834.50 L290.87 834.50 L293.10 834.50 L295.33 834.50 L297.56 834.50 L299.79 834.50 L302.02 834.50 L304.25 834.50 L306.48 834.49 L308.71 834.49 L310.94 834.48 L313.17 834.47 L315.40 834.46 L317.63 834.45 L319.86 834.44 L322.09 834.42 L324.33 834.41 L326.56 834.39 L328.79 834.36 L331.02 834.33 L333.25 834.29 L335.48 834.24 L337.71 834.18 L339.94 834.11 L342.17 834.03 L344.40 833.92 L346.63 833.77 L348.86 833.61 L351.09 833.42 L353.32 833.22 L355.55 833.00 L357.78 832.75 L360.01 832.44 L362.24 832.08 L364.47 831.69 L366.71 831.28 L368.94 830.86 L371.17 830.44 L373.40 830.03 L375.63 829.62 L377.86 829.20 L380.09 828.77 L382.32 828.32 L384.55 827.84 L386.78 827.33 L389.01 826.77 L391.24 826.16 L393.47 825.50 L395.70 824.81 L397.93 824.10 L400.16 823.38 L402.39 822.66 L404.62 821.95 L406.85 821.23 L409.09 820.49 L411.32 819.74 L413.55 818.99 L415.78 818.22 L418.01 817.45 L420.24 816.67 L422.47 815.87 L424.70 815.05 L426.93 814.23 L429.16 813.41 L431.39 812.60 L433.62 811.79 L435.85 811.02 L438.08 810.27 L440.31 809.52 L442.54 808.75 L444.77 807.92 L447.00 807.04 L449.24 806.10 L451.47 805.13 L453.70 804.13 L455.93 803.13 L458.16 802.12 L460.39 801.14 L462.62 800.17 L464.85 799.20 L467.08 798.22 L469.31 797.19 L471.54 796.10 L473.77 794.92 L476.00 793.69 L478.23 792.44 L480.46 791.18 L482.69 789.96 L484.92 788.78 L487.15 787.69 L489.38 786.66 L491.62 785.66 L493.85 784.68 L496.08 783.72 L498.31 782.78 L500.54 781.87 L502.77 781.00 L505.00 780.17 L507.23 779.37 L509.46 778.62 L511.69 777.91 L513.92 777.22 L516.15 776.54 L518.38 775.87 L520.61 775.23 L522.84 774.61 L525.07 774.03 L527.30 773.49 L529.53 772.99 L531.76 772.55 L534.00 772.18 L536.23 771.86 L538.46 771.55 L540.69 771.25 L542.92 770.96 L545.15 770.71 L547.38 770.51 L549.61 770.36 L551.84 770.27 L554.07 770.26 L556.30 770.27 L558.53 770.29 L560.76 770.32 L562.99 770.36 L565.22 770.41 L567.45 770.46 L569.68 770.52 L571.91 770.57 L574.14 770.67 L576.38 770.80 L578.61 770.96 L580.84 771.14 L583.07 771.33 L585.30 771.54 L587.53 771.74 L589.76 771.94 L591.99 772.13 L594.22 772.29 L596.45 772.43 L598.68 772.54 L600.91 772.61 L603.14 772.67 L605.37 772.72 L607.60 772.78 L609.83 772.83 L612.06 772.87 L614.29 772.91 L616.52 772.94 L618.76 772.96 L620.99 772.97 L623.22 772.95 L625.45 772.86 L627.68 772.71 L629.91 772.50 L632.14 772.25 L634.37 771.97 L636.60 771.68 L638.83 771.38 L641.06 771.08 L643.29 770.76 L645.52 770.39 L647.75 769.98 L649.98 769.54 L652.21 769.07 L654.44 768.57 L656.67 768.05 L658.90 767.50 L661.14 766.92 L663.37 766.32 L665.60 765.67 L667.83 764.97 L670.06 764.23 L672.29 763.44 L674.52 762.61 L676.75 761.75 L678.98 760.85 L681.21 759.91 L683.44 758.94 L685.67 757.95 L687.90 756.92 L690.13 755.88 L692.36 754.75 L694.59 753.50 L696.82 752.17 L699.05 750.77 L701.28 749.34 L703.52 747.89 L705.75 746.45 L707.98 745.05 L710.21 743.71 L712.44 742.43 L714.67 741.17 L716.90 739.94 L719.13 738.72 L721.36 737.51 L723.59 736.31 L725.82 735.11 L728.05 733.91 L730.28 732.71 L732.51 731.50 L734.74 730.29 L736.97 729.06 L739.20 727.84 L741.43 726.62 L743.66 725.43 L745.90 724.26 L748.13 723.13 L750.36 722.03 L752.59 720.93 L754.82 719.86 L757.05 718.82 L759.28 717.81 L761.51 716.85 L763.74 715.93 L765.97 715.05 L768.20 714.20 L770.43 713.37 L772.66 712.58 L774.89 711.82 L777.12 711.09 L779.35 710.40 L781.58 709.70 L783.81 709.02 L786.04 708.37 L788.28 707.75 L790.51 707.19 L792.74 706.69 L794.97 706.26 L797.20 705.85 L799.43 705.45 L801.66 705.08 L803.89 704.76 L806.12 704.50 L808.35 704.33 L810.58 704.26 L812.81 704.21 L815.04 704.17 L817.27 704.14 L819.50 704.11 L821.73 704.09 L823.96 704.08 L826.19 704.09 L828.42 704.16 L830.66 704.31 L832.89 704.53 L835.12 704.78 L837.35 705.07 L839.58 705.38 L841.81 705.73 L844.04 706.20 L846.27 706.78 L848.50 707.43 L850.73 708.14 L852.96 708.88 L855.19 709.63 L857.42 710.44 L859.65 711.33 L861.88 712.29 L864.11 713.30 L866.34 714.36 L868.57 715.45 L870.80 716.57 L873.04 717.71 L875.27 718.86 L877.50 720.05 L879.73 721.27 L881.96 722.54 L884.19 723.85 L886.42 725.21 L888.65 726.64 L890.88 728.12 L893.11 729.68 L895.34 731.41 L897.57 733.34 L899.80 735.26 L902.03 737.09 L904.26 738.88 L906.49 740.67 L908.72 742.44 L910.95 744.21 L913.18 745.98 L915.42 747.75 L917.65 749.55 L919.88 751.44 L922.11 753.38 L924.34 755.33 L926.57 757.23 L928.80 759.03 L931.03 760.67 L933.26 762.11 L935.49 763.25 L937.72 764.26 L939.95 765.48 L942.18 766.98 L944.41 768.65 L946.64 770.39 L948.87 772.13 L951.10 773.77 L953.33 775.41 L955.56 777.04 L957.80 778.67 L960.03 780.30 L962.26 781.91 L964.49 783.52 L966.72 785.11 L968.95 786.69 L971.18 788.25 L973.41 789.80 L975.64 791.34 L977.87 792.88 L980.10 794.40 L982.33 795.92 L984.56 797.44 L986.79 798.99 L989.02 800.51 L991.25 801.91 L993.48 803.19 L995.71 804.42 L997.95 805.61 L1000.18 806.76 L1002.41 807.88 L1004.64 808.96 L1006.87 810.02 L1009.10 811.05 L1011.33 812.07 L1013.56 813.07 L1015.79 814.06 L1018.02 815.04 L1020.25 816.02 L1022.48 816.98 L1024.71 817.93 L1026.94 818.86 L1029.17 819.76 L1031.40 820.63 L1033.63 821.46 L1035.86 822.25 L1038.09 822.99 L1040.33 823.69 L1042.56 824.36 L1044.79 825.00 L1047.02 825.63 L1049.25 826.22 L1051.48 826.79 L1053.71 827.33 L1055.94 827.84 L1058.17 828.32 L1060.40 828.77 L1062.63 829.20 L1064.86 829.61 L1067.09 830.01 L1069.32 830.38 L1071.55 830.74 L1073.78 831.07 L1076.01 831.38 L1078.24 831.68 L1080.47 831.94 L1082.71 832.20 L1084.94 832.45 L1087.17 832.68 L1089.40 832.90 L1091.63 833.11 L1093.86 833.30 L1096.09 833.48 L1098.32 833.63 L1100.55 833.76 L1102.78 833.88 L1105.01 834.00 L1107.24 834.12 L1109.47 834.23 L1111.70 834.32 L1113.93 834.40 L1116.16 834.46 L1118.39 834.49 L1120.62 834.50 L1122.85 834.50 L1125.09 834.50 L1127.32 834.50 L1129.55 834.50 L1131.78 834.50 L1134.01 834.50 L1136.24 834.50 L1138.47 834.50 L1140.70 834.50 L1142.93 834.50 L1145.16 834.50 L1147.39 834.50 L1149.62 834.50 L1151.85 834.50 L1154.08 834.50 L1156.31 834.50 L1158.54 834.50 L1160.77 834.50 L1163.00 834.50 L1165.23 834.50 L1167.47 834.50 L1169.70 834.50 L1171.93 834.50 L1174.16 834.50 L1176.39 834.50 L1178.62 834.50 L1180.85 834.50 L1183.08 834.50 L1185.31 834.50 L1187.54 834.50 L1189.77 834.50 L1192.00 834.50 L1194.23 834.50 L1196.46 834.50 L1198.69 834.50 L1200.92 834.50 L1203.15 834.50 L1205.38 834.50 L1207.61 834.50 L1209.85 834.50 L1212.08 834.50 L1214.31 834.50 L1216.54 834.50 L1218.77 834.50 L1221.00 834.50 L1223.23 834.50 L1225.46 834.50 L1227.69 834.50 L1229.92 834.50 L1232.15 834.50 L1234.38 834.50 L1236.61 834.50 L1238.84 834.50 L1241.07 834.50 L1243.30 834.50 L1245.53 834.50 L1247.76 834.50 L1249.99 834.50 L1252.23 834.50 L1254.46 834.50 L1256.69 834.50 L1258.92 834.50 L1261.15 834.50 L1263.38 834.50 L1265.61 834.50 L1267.84 834.50 L1270.07 834.50 L1272.30 834.50 L1272.30 834.50 Z" fill="#FF4FAE" fill-opacity="0.4"/>
<line x1="748.55" x2="748.55" y1="14.67" y2="873.33"/>
</g>
<g stroke="#262626" stroke-width="2.84">
<line x1="270.55" x2="270.55" y1="873.33" y2="880.66"/>
<line x1="509.55" x2="509.55" y1="873.33" y2="880.66"/>
<line x1="748.55" x2="748.55" y1="873.33" y2="880.66"/>
<line x1="987.55" x2="987.55" y1="873.33" y2="880.66"/>
<line x1="1226.55" x2="1226.55" y1="873.33" y2="880.66"/>
<line x1="68.67" x2="76.00" y1="834.50" y2="834.50"/>
<line x1="68.67" x2="76.00" y1="641.00" y2="641.00"/>
<line x1="68.67" x2="76.00" y1="447.50" y2="447.50"/>
<line x1="68.67" x2="76.00" y1="254.00" y2="254.00"/>
<line x1="68.67" x2="76.00" y1="60.50" y2="60.50"/>
</g>
<g fill="#3C3C3C" stroke="#3C3C3C" stroke-width="0.3" font-size="23.47">
<text x="270.55" y="903.90" text-anchor="middle">-2</text>
<text x="509.55" y="903.90" text-anchor="middle">-1</text>
<text x="748.55" y="903.90" text-anchor="middle">0</text>
<text x="987.55" y="903.90" text-anchor="middle">1</text>
<text x="1226.55" y="903.90" text-anchor="middle">2</text>
<text x="62.80" y="843.20" text-anchor="end">0</text>
<text x="62.80" y="649.70" text-anchor="end">1</text>
<text x="62.80" y="456.20" text-anchor="end">2</text>
<text x="62.80" y="262.70" text-anchor="end">3</text>
<text x="62.80" y="69.20" text-anchor="end">4</text>
</g>
<text x="702.66" y="939.30" font-size="29.33" text-anchor="middle" fill="#000" stroke="#000" stroke-width="0.3">predictor (logit)</text>
<text transform="translate(36.00 445.20) rotate(-90)" font-size="29.33" text-anchor="middle" fill="#000" stroke="#000" stroke-width="0.3">density</text>
<rect x="960.90" y="-80" width="361.40" height="490.00" fill="#FFFFFF"/>
<rect x="977.67" y="350.60" width="41.88" height="41.88" fill="#EFEFEF"/>
<rect x="977.67" y="350.60" width="41.88" height="41.88" fill="#FF4FAE" fill-opacity="0.4" stroke="#000" stroke-width="2.50"/>
<text x="1035.82" y="381.24" font-size="23.47" fill="#000" stroke="#000" stroke-width="0.3">Unintentional injuries</text>
<rect x="977.67" y="304.52" width="41.88" height="41.88" fill="#EFEFEF"/>
<rect x="977.67" y="304.52" width="41.88" height="41.88" fill="#E158F0" fill-opacity="0.4" stroke="#000" stroke-width="2.50"/>
<text x="1035.82" y="335.16" font-size="23.47" fill="#000" stroke="#000" stroke-width="0.3">Suicide</text>
<rect x="977.67" y="258.44" width="41.88" height="41.88" fill="#EFEFEF"/>
<rect x="977.67" y="258.44" width="41.88" height="41.88" fill="#837DFF" fill-opacity="0.4" stroke="#000" stroke-width="2.50"/>
<text x="1035.82" y="289.08" font-size="23.47" fill="#000" stroke="#000" stroke-width="0.3">Nephritis</text>
<rect x="977.67" y="212.36" width="41.88" height="41.88" fill="#EFEFEF"/>
<rect x="977.67" y="212.36" width="41.88" height="41.88" fill="#00A0F4" fill-opacity="0.4" stroke="#000" stroke-width="2.50"/>
<text x="1035.82" y="243.00" font-size="23.47" fill="#000" stroke="#000" stroke-width="0.3">Lower respiratory</text>
<rect x="977.67" y="166.28" width="41.88" height="41.88" fill="#EFEFEF"/>
<rect x="977.67" y="166.28" width="41.88" height="41.88" fill="#00B2B7" fill-opacity="0.4" stroke="#000" stroke-width="2.50"/>
<text x="1035.82" y="196.92" font-size="23.47" fill="#000" stroke="#000" stroke-width="0.3">Heart disease</text>
<rect x="977.67" y="120.20" width="41.88" height="41.88" fill="#EFEFEF"/>
<rect x="977.67" y="120.20" width="41.88" height="41.88" fill="#00B26A" fill-opacity="0.4" stroke="#000" stroke-width="2.50"/>
<text x="1035.82" y="150.84" font-size="23.47" fill="#000" stroke="#000" stroke-width="0.3">Flu and pneumonia</text>
<rect x="977.67" y="74.12" width="41.88" height="41.88" fill="#EFEFEF"/>
<rect x="977.67" y="74.12" width="41.88" height="41.88" fill="#2BA700" fill-opacity="0.4" stroke="#000" stroke-width="2.50"/>
<text x="1035.82" y="104.76" font-size="23.47" fill="#000" stroke="#000" stroke-width="0.3">Diabetes</text>
<rect x="977.67" y="28.04" width="41.88" height="41.88" fill="#EFEFEF"/>
<rect x="977.67" y="28.04" width="41.88" height="41.88" fill="#929400" fill-opacity="0.4" stroke="#000" stroke-width="2.50"/>
<text x="1035.82" y="58.68" font-size="23.47" fill="#000" stroke="#000" stroke-width="0.3">Cerebrovascular diseases</text>
<rect x="977.67" y="-18.04" width="41.88" height="41.88" fill="#EFEFEF"/>
<rect x="977.67" y="-18.04" width="41.88" height="41.88" fill="#CF7D00" fill-opacity="0.4" stroke="#000" stroke-width="2.50"/>
<text x="1035.82" y="12.60" font-size="23.47" fill="#000" stroke="#000" stroke-width="0.3">Cancer</text>
<rect x="977.67" y="-64.12" width="41.88" height="41.88" fill="#EFEFEF"/>
<rect x="977.67" y="-64.12" width="41.88" height="41.88" fill="#F6635A" fill-opacity="0.4" stroke="#000" stroke-width="2.50"/>
<text x="1035.82" y="-33.48" font-size="23.47" fill="#000" stroke="#000" stroke-width="0.3">Alzheimer's disease</text>
</svg>
</body></html>
